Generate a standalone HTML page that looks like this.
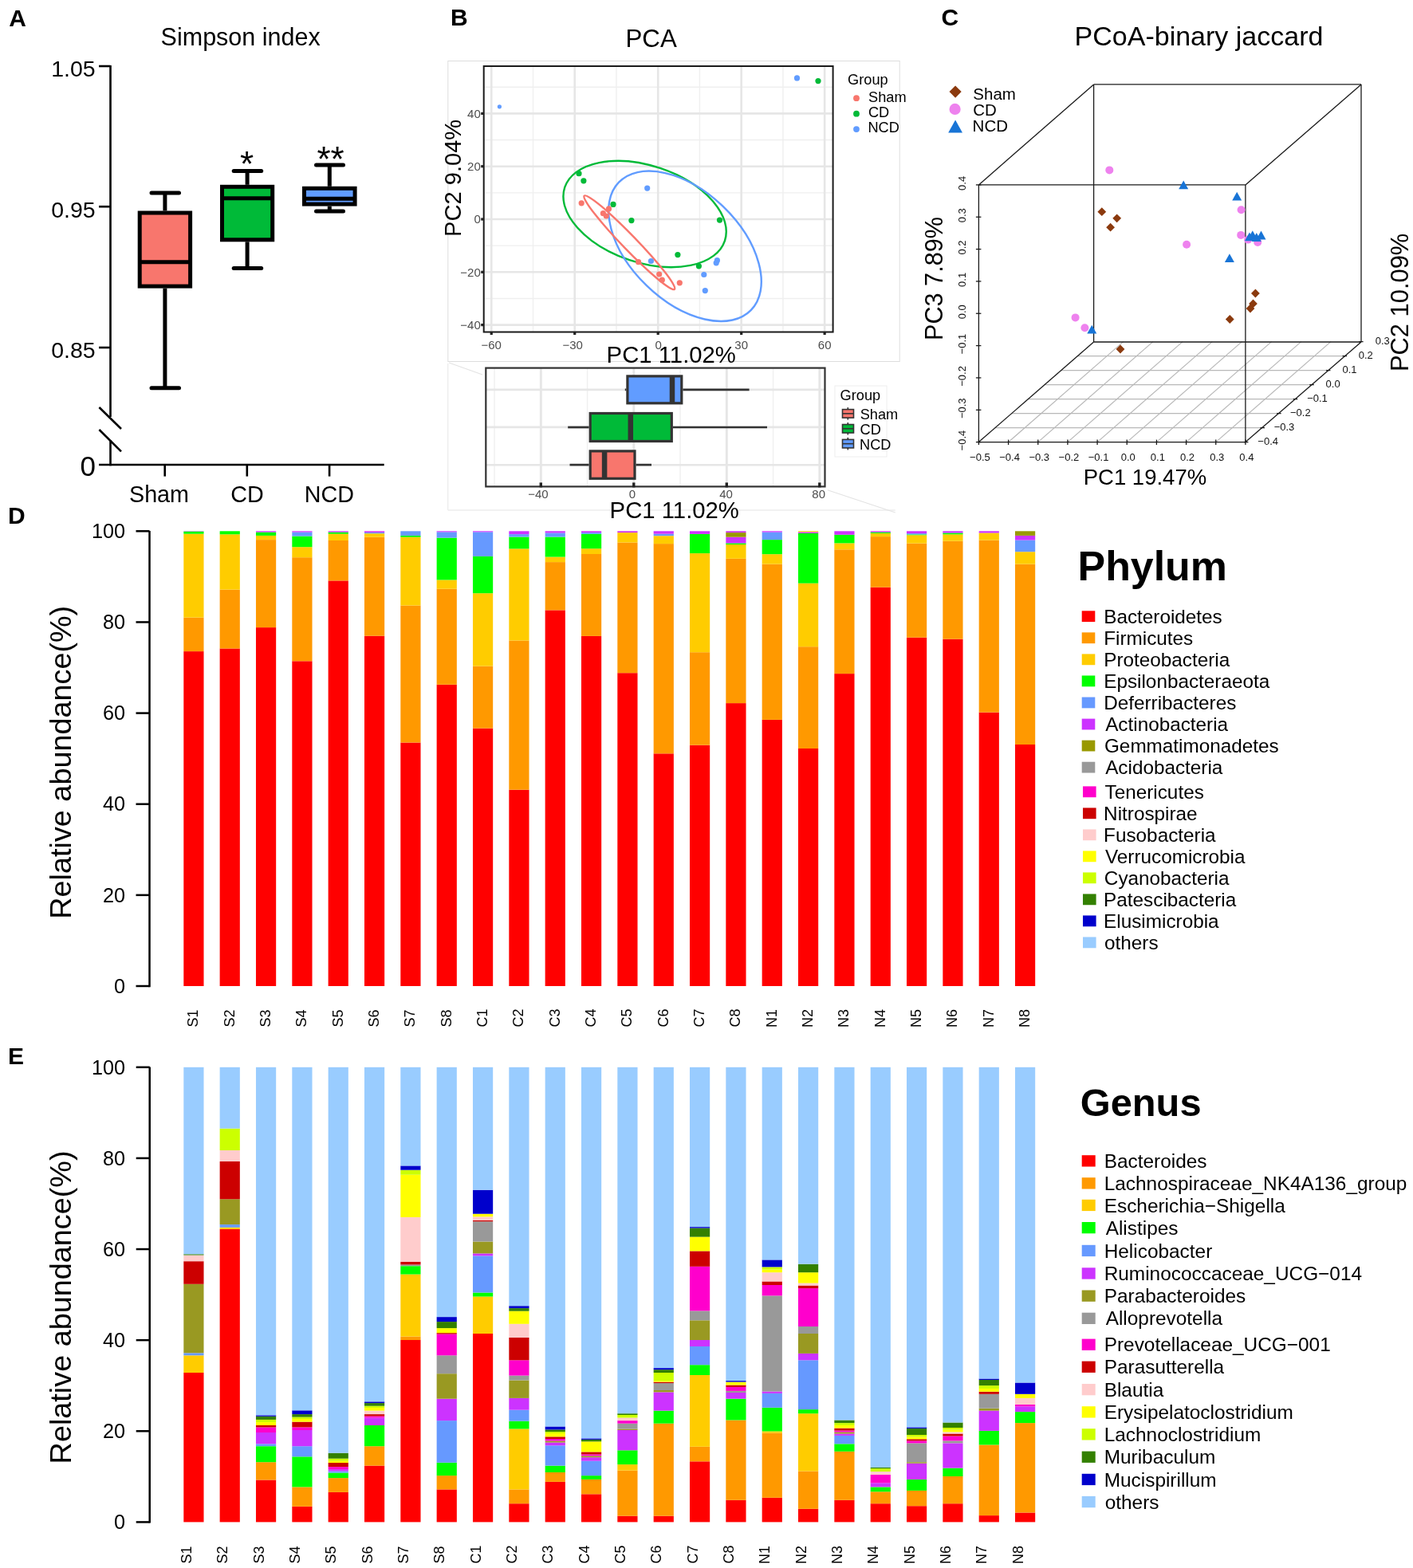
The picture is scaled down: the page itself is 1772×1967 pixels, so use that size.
<!DOCTYPE html><html><head><meta charset="utf-8"><title>Figure</title><style>html,body{margin:0;padding:0;background:#fff;}svg{display:block;}</style></head><body>
<svg width="1772" height="1967" viewBox="0 0 1772 1967" font-family="Liberation Sans, Arial, sans-serif">
<rect x="0" y="0" width="1772" height="1967" fill="#fff"/>
<text x="11.15" y="32.60" font-size="30.00" font-weight="bold" fill="#000" text-anchor="start">A</text>
<text x="201.61" y="57.00" font-size="30.50" fill="#000" text-anchor="start">Simpson index</text>
<line x1="138.50" y1="82.00" x2="138.50" y2="523.00" stroke="#000" stroke-width="2.60" stroke-linecap="butt"/>
<line x1="138.50" y1="552.00" x2="138.50" y2="584.30" stroke="#000" stroke-width="2.60" stroke-linecap="butt"/>
<line x1="124.00" y1="83.00" x2="138.50" y2="83.00" stroke="#000" stroke-width="2.60" stroke-linecap="butt"/>
<text x="119.70" y="96.30" font-size="28.50" fill="#000" text-anchor="end">1.05</text>
<line x1="124.00" y1="259.20" x2="138.50" y2="259.20" stroke="#000" stroke-width="2.60" stroke-linecap="butt"/>
<text x="119.70" y="272.50" font-size="28.50" fill="#000" text-anchor="end">0.95</text>
<line x1="124.00" y1="436.00" x2="138.50" y2="436.00" stroke="#000" stroke-width="2.60" stroke-linecap="butt"/>
<text x="119.70" y="449.30" font-size="28.50" fill="#000" text-anchor="end">0.85</text>
<text x="119.97" y="596.80" font-size="35.00" fill="#000" text-anchor="end">0</text>
<line x1="124.40" y1="511.00" x2="152.00" y2="538.00" stroke="#000" stroke-width="2.60" stroke-linecap="butt"/>
<line x1="124.40" y1="539.00" x2="152.00" y2="566.30" stroke="#000" stroke-width="2.60" stroke-linecap="butt"/>
<line x1="124.00" y1="583.00" x2="481.70" y2="583.00" stroke="#000" stroke-width="2.60" stroke-linecap="butt"/>
<line x1="206.70" y1="583.00" x2="206.70" y2="597.60" stroke="#000" stroke-width="2.60" stroke-linecap="butt"/>
<text x="199.50" y="629.80" font-size="28.70" fill="#000" text-anchor="middle">Sham</text>
<line x1="309.80" y1="583.00" x2="309.80" y2="597.60" stroke="#000" stroke-width="2.60" stroke-linecap="butt"/>
<text x="309.90" y="629.80" font-size="28.70" fill="#000" text-anchor="middle">CD</text>
<line x1="413.10" y1="583.00" x2="413.10" y2="597.60" stroke="#000" stroke-width="2.60" stroke-linecap="butt"/>
<text x="412.90" y="629.80" font-size="28.70" fill="#000" text-anchor="middle">NCD</text>
<line x1="206.90" y1="242.00" x2="206.90" y2="264.50" stroke="#000" stroke-width="5.00" stroke-linecap="butt"/>
<line x1="206.90" y1="361.60" x2="206.90" y2="486.70" stroke="#000" stroke-width="5.00" stroke-linecap="butt"/>
<line x1="190.00" y1="242.00" x2="224.50" y2="242.00" stroke="#000" stroke-width="5.00" stroke-linecap="round"/>
<line x1="190.00" y1="486.70" x2="224.50" y2="486.70" stroke="#000" stroke-width="5.00" stroke-linecap="round"/>
<rect x="175.20" y="267.00" width="63.40" height="92.10" fill="#F8766D" stroke="#000" stroke-width="5.00"/>
<line x1="175.20" y1="328.80" x2="238.60" y2="328.80" stroke="#000" stroke-width="5.00" stroke-linecap="butt"/>
<line x1="310.10" y1="214.60" x2="310.10" y2="231.80" stroke="#000" stroke-width="5.00" stroke-linecap="butt"/>
<line x1="310.10" y1="303.30" x2="310.10" y2="336.50" stroke="#000" stroke-width="5.00" stroke-linecap="butt"/>
<line x1="293.20" y1="214.60" x2="327.70" y2="214.60" stroke="#000" stroke-width="5.00" stroke-linecap="round"/>
<line x1="293.20" y1="336.50" x2="327.70" y2="336.50" stroke="#000" stroke-width="5.00" stroke-linecap="round"/>
<rect x="278.50" y="234.30" width="63.20" height="66.50" fill="#00BA38" stroke="#000" stroke-width="5.00"/>
<line x1="278.50" y1="248.70" x2="341.70" y2="248.70" stroke="#000" stroke-width="5.00" stroke-linecap="butt"/>
<line x1="413.30" y1="207.00" x2="413.30" y2="233.80" stroke="#000" stroke-width="5.00" stroke-linecap="butt"/>
<line x1="413.30" y1="258.60" x2="413.30" y2="265.00" stroke="#000" stroke-width="5.00" stroke-linecap="butt"/>
<line x1="396.50" y1="207.00" x2="430.50" y2="207.00" stroke="#000" stroke-width="5.00" stroke-linecap="round"/>
<line x1="396.50" y1="265.00" x2="430.50" y2="265.00" stroke="#000" stroke-width="5.00" stroke-linecap="round"/>
<rect x="381.50" y="236.30" width="63.60" height="19.80" fill="#619CFF" stroke="#000" stroke-width="5.00"/>
<line x1="381.50" y1="249.20" x2="445.10" y2="249.20" stroke="#000" stroke-width="5.00" stroke-linecap="butt"/>
<text x="309.50" y="220.80" font-size="44.00" fill="#000" text-anchor="middle">*</text>
<text x="414.60" y="215.10" font-size="44.00" fill="#000" text-anchor="middle">**</text>
<text x="564.99" y="32.30" font-size="30.00" font-weight="bold" fill="#000" text-anchor="start">B</text>
<text x="784.43" y="59.30" font-size="31.30" fill="#000" text-anchor="start">PCA</text>
<rect x="561.8" y="76.5" width="566.4" height="377" fill="none" stroke="#dddddd" stroke-width="1"/>
<rect x="606.70" y="83.00" width="437.90" height="333.50" fill="#fff"/>
<line x1="668.49" y1="83.00" x2="668.49" y2="416.50" stroke="#EFEFEF" stroke-width="1.40" stroke-linecap="butt"/>
<line x1="772.96" y1="83.00" x2="772.96" y2="416.50" stroke="#EFEFEF" stroke-width="1.40" stroke-linecap="butt"/>
<line x1="877.44" y1="83.00" x2="877.44" y2="416.50" stroke="#EFEFEF" stroke-width="1.40" stroke-linecap="butt"/>
<line x1="981.91" y1="83.00" x2="981.91" y2="416.50" stroke="#EFEFEF" stroke-width="1.40" stroke-linecap="butt"/>
<line x1="606.70" y1="109.25" x2="1044.60" y2="109.25" stroke="#EFEFEF" stroke-width="1.40" stroke-linecap="butt"/>
<line x1="606.70" y1="175.55" x2="1044.60" y2="175.55" stroke="#EFEFEF" stroke-width="1.40" stroke-linecap="butt"/>
<line x1="606.70" y1="241.85" x2="1044.60" y2="241.85" stroke="#EFEFEF" stroke-width="1.40" stroke-linecap="butt"/>
<line x1="606.70" y1="308.15" x2="1044.60" y2="308.15" stroke="#EFEFEF" stroke-width="1.40" stroke-linecap="butt"/>
<line x1="606.70" y1="374.45" x2="1044.60" y2="374.45" stroke="#EFEFEF" stroke-width="1.40" stroke-linecap="butt"/>
<line x1="616.25" y1="83.00" x2="616.25" y2="416.50" stroke="#E6E6E6" stroke-width="2.60" stroke-linecap="butt"/>
<line x1="720.73" y1="83.00" x2="720.73" y2="416.50" stroke="#E6E6E6" stroke-width="2.60" stroke-linecap="butt"/>
<line x1="825.20" y1="83.00" x2="825.20" y2="416.50" stroke="#E6E6E6" stroke-width="2.60" stroke-linecap="butt"/>
<line x1="929.68" y1="83.00" x2="929.68" y2="416.50" stroke="#E6E6E6" stroke-width="2.60" stroke-linecap="butt"/>
<line x1="1034.15" y1="83.00" x2="1034.15" y2="416.50" stroke="#E6E6E6" stroke-width="2.60" stroke-linecap="butt"/>
<line x1="606.70" y1="142.40" x2="1044.60" y2="142.40" stroke="#E6E6E6" stroke-width="2.60" stroke-linecap="butt"/>
<line x1="606.70" y1="208.70" x2="1044.60" y2="208.70" stroke="#E6E6E6" stroke-width="2.60" stroke-linecap="butt"/>
<line x1="606.70" y1="275.00" x2="1044.60" y2="275.00" stroke="#E6E6E6" stroke-width="2.60" stroke-linecap="butt"/>
<line x1="606.70" y1="341.30" x2="1044.60" y2="341.30" stroke="#E6E6E6" stroke-width="2.60" stroke-linecap="butt"/>
<line x1="606.70" y1="407.60" x2="1044.60" y2="407.60" stroke="#E6E6E6" stroke-width="2.60" stroke-linecap="butt"/>
<ellipse cx="808.6" cy="268.5" rx="105.8" ry="60.7" transform="rotate(18.5 808.6 268.5)" fill="none" stroke="#00BA38" stroke-width="2.4"/>
<ellipse cx="859.0" cy="308.8" rx="115.3" ry="69.0" transform="rotate(44 859.0 308.8)" fill="none" stroke="#619CFF" stroke-width="2.4"/>
<ellipse cx="789.3" cy="304.2" rx="81.5" ry="8.8" transform="rotate(46 789.3 304.2)" fill="none" stroke="#F8766D" stroke-width="2.4"/>
<circle cx="626.40" cy="133.80" r="2.60" fill="#619CFF"/>
<circle cx="999.50" cy="97.90" r="3.60" fill="#619CFF"/>
<circle cx="1026.00" cy="101.60" r="3.60" fill="#00BA38"/>
<circle cx="726.00" cy="217.70" r="3.60" fill="#00BA38"/>
<circle cx="731.90" cy="226.80" r="3.60" fill="#00BA38"/>
<circle cx="769.00" cy="256.40" r="3.60" fill="#00BA38"/>
<circle cx="791.90" cy="276.60" r="3.60" fill="#00BA38"/>
<circle cx="902.50" cy="276.10" r="3.60" fill="#00BA38"/>
<circle cx="849.90" cy="319.60" r="3.60" fill="#00BA38"/>
<circle cx="876.40" cy="333.80" r="3.60" fill="#00BA38"/>
<circle cx="729.20" cy="254.80" r="3.60" fill="#F8766D"/>
<circle cx="756.40" cy="267.70" r="3.60" fill="#F8766D"/>
<circle cx="760.30" cy="271.00" r="3.60" fill="#F8766D"/>
<circle cx="763.50" cy="261.90" r="3.60" fill="#F8766D"/>
<circle cx="800.60" cy="328.70" r="3.60" fill="#F8766D"/>
<circle cx="826.70" cy="344.00" r="3.60" fill="#F8766D"/>
<circle cx="830.30" cy="351.20" r="3.60" fill="#F8766D"/>
<circle cx="852.30" cy="354.80" r="3.60" fill="#F8766D"/>
<circle cx="811.70" cy="236.10" r="3.60" fill="#619CFF"/>
<circle cx="816.40" cy="327.50" r="3.60" fill="#619CFF"/>
<circle cx="882.80" cy="344.50" r="3.60" fill="#619CFF"/>
<circle cx="884.30" cy="364.60" r="3.60" fill="#619CFF"/>
<circle cx="898.20" cy="329.80" r="3.60" fill="#619CFF"/>
<circle cx="899.40" cy="326.70" r="3.60" fill="#619CFF"/>
<rect x="606.70" y="83.00" width="437.90" height="333.50" fill="none" stroke="#1a1a1a" stroke-width="2"/>
<line x1="603.20" y1="142.40" x2="606.70" y2="142.40" stroke="#222" stroke-width="3.20" stroke-linecap="butt"/>
<text x="602.79" y="147.70" font-size="15.00" fill="#4D4D4D" text-anchor="end">40</text>
<line x1="603.20" y1="208.70" x2="606.70" y2="208.70" stroke="#222" stroke-width="3.20" stroke-linecap="butt"/>
<text x="602.79" y="214.00" font-size="15.00" fill="#4D4D4D" text-anchor="end">20</text>
<line x1="603.20" y1="275.00" x2="606.70" y2="275.00" stroke="#222" stroke-width="3.20" stroke-linecap="butt"/>
<text x="602.79" y="280.30" font-size="15.00" fill="#4D4D4D" text-anchor="end">0</text>
<line x1="603.20" y1="341.30" x2="606.70" y2="341.30" stroke="#222" stroke-width="3.20" stroke-linecap="butt"/>
<text x="602.79" y="346.60" font-size="15.00" fill="#4D4D4D" text-anchor="end">−20</text>
<line x1="603.20" y1="407.60" x2="606.70" y2="407.60" stroke="#222" stroke-width="3.20" stroke-linecap="butt"/>
<text x="602.79" y="412.90" font-size="15.00" fill="#4D4D4D" text-anchor="end">−40</text>
<line x1="616.25" y1="416.50" x2="616.25" y2="420.00" stroke="#222" stroke-width="3.20" stroke-linecap="butt"/>
<text x="616.25" y="438.00" font-size="15.00" fill="#4D4D4D" text-anchor="middle">−60</text>
<line x1="720.73" y1="416.50" x2="720.73" y2="420.00" stroke="#222" stroke-width="3.20" stroke-linecap="butt"/>
<text x="718.23" y="438.00" font-size="15.00" fill="#4D4D4D" text-anchor="middle">−30</text>
<line x1="825.20" y1="416.50" x2="825.20" y2="420.00" stroke="#222" stroke-width="3.20" stroke-linecap="butt"/>
<text x="825.70" y="438.00" font-size="15.00" fill="#4D4D4D" text-anchor="middle">0</text>
<line x1="929.68" y1="416.50" x2="929.68" y2="420.00" stroke="#222" stroke-width="3.20" stroke-linecap="butt"/>
<text x="929.68" y="438.00" font-size="15.00" fill="#4D4D4D" text-anchor="middle">30</text>
<line x1="1034.15" y1="416.50" x2="1034.15" y2="420.00" stroke="#222" stroke-width="3.20" stroke-linecap="butt"/>
<text x="1034.15" y="438.00" font-size="15.00" fill="#4D4D4D" text-anchor="middle">60</text>
<text transform="translate(577.70 294.60) rotate(-90)" x="-2.39" y="0" font-size="29.10" fill="#000" text-anchor="start">PC2 9.04%</text>
<text x="760.60" y="454.90" font-size="29.30" fill="#000" text-anchor="start">PC1 11.02%</text>
<text x="1063.08" y="106.00" font-size="18.20" fill="#000" text-anchor="start">Group</text>
<circle cx="1074.00" cy="123.20" r="3.90" fill="#F8766D"/>
<text x="1089.07" y="127.70" font-size="18.20" fill="#000" text-anchor="start">Sham</text>
<circle cx="1074.00" cy="142.65" r="3.90" fill="#00BA38"/>
<text x="1088.98" y="146.75" font-size="18.20" fill="#000" text-anchor="start">CD</text>
<circle cx="1074.00" cy="162.10" r="3.90" fill="#619CFF"/>
<text x="1088.41" y="165.80" font-size="18.20" fill="#000" text-anchor="start">NCD</text>
<polyline points="563,455 605,470" fill="none" stroke="#e3e3e3" stroke-width="1.2"/>
<polyline points="1037.8,614.8 1122.8,643" fill="none" stroke="#e3e3e3" stroke-width="1.2"/>
<line x1="561.70" y1="640.00" x2="1122.80" y2="640.00" stroke="#e3e3e3" stroke-width="1.20" stroke-linecap="butt"/>
<line x1="561.70" y1="456.00" x2="561.70" y2="640.00" stroke="#ececec" stroke-width="1.20" stroke-linecap="butt"/>
<line x1="620.05" y1="461.60" x2="620.05" y2="610.40" stroke="#EFEFEF" stroke-width="1.40" stroke-linecap="butt"/>
<line x1="736.55" y1="461.60" x2="736.55" y2="610.40" stroke="#EFEFEF" stroke-width="1.40" stroke-linecap="butt"/>
<line x1="853.05" y1="461.60" x2="853.05" y2="610.40" stroke="#EFEFEF" stroke-width="1.40" stroke-linecap="butt"/>
<line x1="969.55" y1="461.60" x2="969.55" y2="610.40" stroke="#EFEFEF" stroke-width="1.40" stroke-linecap="butt"/>
<line x1="678.30" y1="461.60" x2="678.30" y2="610.40" stroke="#E6E6E6" stroke-width="2.90" stroke-linecap="butt"/>
<line x1="794.80" y1="461.60" x2="794.80" y2="610.40" stroke="#E6E6E6" stroke-width="2.90" stroke-linecap="butt"/>
<line x1="911.30" y1="461.60" x2="911.30" y2="610.40" stroke="#E6E6E6" stroke-width="2.90" stroke-linecap="butt"/>
<line x1="1027.80" y1="461.60" x2="1027.80" y2="610.40" stroke="#E6E6E6" stroke-width="2.90" stroke-linecap="butt"/>
<line x1="609.30" y1="488.90" x2="1034.50" y2="488.90" stroke="#E6E6E6" stroke-width="2.60" stroke-linecap="butt"/>
<line x1="609.30" y1="535.90" x2="1034.50" y2="535.90" stroke="#E6E6E6" stroke-width="2.60" stroke-linecap="butt"/>
<line x1="609.30" y1="583.20" x2="1034.50" y2="583.20" stroke="#E6E6E6" stroke-width="2.60" stroke-linecap="butt"/>
<line x1="783.80" y1="488.85" x2="785.30" y2="488.85" stroke="#333" stroke-width="2.70" stroke-linecap="butt"/>
<line x1="856.40" y1="488.85" x2="939.60" y2="488.85" stroke="#333" stroke-width="2.70" stroke-linecap="butt"/>
<rect x="786.90" y="471.90" width="67.90" height="33.90" fill="#619CFF" stroke="#333" stroke-width="3.2"/>
<line x1="843.00" y1="471.90" x2="843.00" y2="505.80" stroke="#333" stroke-width="6.50" stroke-linecap="butt"/>
<line x1="712.20" y1="536.00" x2="738.60" y2="536.00" stroke="#333" stroke-width="2.70" stroke-linecap="butt"/>
<line x1="843.90" y1="536.00" x2="962.00" y2="536.00" stroke="#333" stroke-width="2.70" stroke-linecap="butt"/>
<rect x="740.20" y="518.50" width="102.10" height="35.00" fill="#00BA38" stroke="#333" stroke-width="3.2"/>
<line x1="790.80" y1="518.50" x2="790.80" y2="553.50" stroke="#333" stroke-width="6.50" stroke-linecap="butt"/>
<line x1="714.50" y1="583.10" x2="738.60" y2="583.10" stroke="#333" stroke-width="2.70" stroke-linecap="butt"/>
<line x1="797.60" y1="583.10" x2="817.00" y2="583.10" stroke="#333" stroke-width="2.70" stroke-linecap="butt"/>
<rect x="740.20" y="565.90" width="55.80" height="34.40" fill="#F8766D" stroke="#333" stroke-width="3.2"/>
<line x1="758.10" y1="565.90" x2="758.10" y2="600.30" stroke="#333" stroke-width="6.50" stroke-linecap="butt"/>
<rect x="609.30" y="461.60" width="425.20" height="148.80" fill="none" stroke="#333" stroke-width="2.2"/>
<line x1="678.30" y1="605.40" x2="678.30" y2="611.40" stroke="#222" stroke-width="3.40" stroke-linecap="butt"/>
<text x="675.00" y="625.00" font-size="15.00" fill="#4D4D4D" text-anchor="middle">−40</text>
<line x1="794.80" y1="605.40" x2="794.80" y2="611.40" stroke="#222" stroke-width="3.40" stroke-linecap="butt"/>
<text x="793.00" y="625.00" font-size="15.00" fill="#4D4D4D" text-anchor="middle">0</text>
<line x1="911.30" y1="605.40" x2="911.30" y2="611.40" stroke="#222" stroke-width="3.40" stroke-linecap="butt"/>
<text x="910.50" y="625.00" font-size="15.00" fill="#4D4D4D" text-anchor="middle">40</text>
<line x1="1027.80" y1="605.40" x2="1027.80" y2="611.40" stroke="#222" stroke-width="3.40" stroke-linecap="butt"/>
<text x="1026.70" y="625.00" font-size="15.00" fill="#4D4D4D" text-anchor="middle">80</text>
<text x="764.60" y="649.80" font-size="29.30" fill="#000" text-anchor="start">PC1 11.02%</text>
<rect x="1047" y="484" width="65" height="89" fill="#fff" stroke="#eeeeee" stroke-width="1"/>
<text x="1053.58" y="501.60" font-size="18.20" fill="#000" text-anchor="start">Group</text>
<line x1="1063.30" y1="511.10" x2="1063.30" y2="526.60" stroke="#333" stroke-width="1.60" stroke-linecap="butt"/>
<rect x="1056.5" y="513.60" width="14" height="10.5" fill="#F8766D" stroke="#333" stroke-width="1.6"/>
<line x1="1056.50" y1="518.85" x2="1070.50" y2="518.85" stroke="#333" stroke-width="1.60" stroke-linecap="butt"/>
<text x="1078.67" y="526.40" font-size="18.20" fill="#000" text-anchor="start">Sham</text>
<line x1="1063.30" y1="530.00" x2="1063.30" y2="545.50" stroke="#333" stroke-width="1.60" stroke-linecap="butt"/>
<rect x="1056.5" y="532.50" width="14" height="10.5" fill="#00BA38" stroke="#333" stroke-width="1.6"/>
<line x1="1056.50" y1="537.75" x2="1070.50" y2="537.75" stroke="#333" stroke-width="1.60" stroke-linecap="butt"/>
<text x="1078.58" y="545.30" font-size="18.20" fill="#000" text-anchor="start">CD</text>
<line x1="1063.30" y1="548.90" x2="1063.30" y2="564.40" stroke="#333" stroke-width="1.60" stroke-linecap="butt"/>
<rect x="1056.5" y="551.40" width="14" height="10.5" fill="#619CFF" stroke="#333" stroke-width="1.6"/>
<line x1="1056.50" y1="556.65" x2="1070.50" y2="556.65" stroke="#333" stroke-width="1.60" stroke-linecap="butt"/>
<text x="1078.01" y="564.20" font-size="18.20" fill="#000" text-anchor="start">NCD</text>
<text x="1180.47" y="32.10" font-size="30.00" font-weight="bold" fill="#000" text-anchor="start">C</text>
<text x="1347.61" y="57.10" font-size="34.00" fill="#000" text-anchor="start">PCoA-binary jaccard</text>
<line x1="1248.00" y1="536.60" x2="1582.50" y2="536.60" stroke="#b8b8b8" stroke-width="1.20" stroke-linecap="butt"/>
<line x1="1268.60" y1="518.60" x2="1603.10" y2="518.60" stroke="#b8b8b8" stroke-width="1.20" stroke-linecap="butt"/>
<line x1="1289.20" y1="500.60" x2="1623.70" y2="500.60" stroke="#b8b8b8" stroke-width="1.20" stroke-linecap="butt"/>
<line x1="1309.80" y1="482.60" x2="1644.30" y2="482.60" stroke="#b8b8b8" stroke-width="1.20" stroke-linecap="butt"/>
<line x1="1330.40" y1="464.60" x2="1664.90" y2="464.60" stroke="#b8b8b8" stroke-width="1.20" stroke-linecap="butt"/>
<line x1="1351.00" y1="446.60" x2="1685.50" y2="446.60" stroke="#b8b8b8" stroke-width="1.20" stroke-linecap="butt"/>
<line x1="1264.57" y1="554.60" x2="1408.77" y2="428.60" stroke="#b8b8b8" stroke-width="1.20" stroke-linecap="butt"/>
<line x1="1301.73" y1="554.60" x2="1445.93" y2="428.60" stroke="#b8b8b8" stroke-width="1.20" stroke-linecap="butt"/>
<line x1="1338.90" y1="554.60" x2="1483.10" y2="428.60" stroke="#b8b8b8" stroke-width="1.20" stroke-linecap="butt"/>
<line x1="1376.07" y1="554.60" x2="1520.27" y2="428.60" stroke="#b8b8b8" stroke-width="1.20" stroke-linecap="butt"/>
<line x1="1413.23" y1="554.60" x2="1557.43" y2="428.60" stroke="#b8b8b8" stroke-width="1.20" stroke-linecap="butt"/>
<line x1="1450.40" y1="554.60" x2="1594.60" y2="428.60" stroke="#b8b8b8" stroke-width="1.20" stroke-linecap="butt"/>
<line x1="1487.57" y1="554.60" x2="1631.77" y2="428.60" stroke="#b8b8b8" stroke-width="1.20" stroke-linecap="butt"/>
<line x1="1524.73" y1="554.60" x2="1668.93" y2="428.60" stroke="#b8b8b8" stroke-width="1.20" stroke-linecap="butt"/>
<line x1="1371.60" y1="105.90" x2="1707.00" y2="105.90" stroke="#1a1a1a" stroke-width="1.30" stroke-linecap="butt"/>
<line x1="1707.00" y1="105.90" x2="1707.00" y2="429.00" stroke="#1a1a1a" stroke-width="1.30" stroke-linecap="butt"/>
<line x1="1371.60" y1="105.90" x2="1371.60" y2="429.00" stroke="#1a1a1a" stroke-width="1.30" stroke-linecap="butt"/>
<line x1="1371.60" y1="429.00" x2="1707.00" y2="429.00" stroke="#1a1a1a" stroke-width="1.30" stroke-linecap="butt"/>
<line x1="1227.40" y1="231.90" x2="1371.60" y2="105.90" stroke="#1a1a1a" stroke-width="1.30" stroke-linecap="butt"/>
<line x1="1561.90" y1="231.90" x2="1707.00" y2="105.90" stroke="#1a1a1a" stroke-width="1.30" stroke-linecap="butt"/>
<line x1="1561.90" y1="554.60" x2="1707.00" y2="429.00" stroke="#1a1a1a" stroke-width="1.30" stroke-linecap="butt"/>
<line x1="1227.40" y1="554.60" x2="1371.60" y2="429.00" stroke="#1a1a1a" stroke-width="1.30" stroke-linecap="butt"/>
<line x1="1227.40" y1="231.90" x2="1561.90" y2="231.90" stroke="#1a1a1a" stroke-width="1.30" stroke-linecap="butt"/>
<line x1="1561.90" y1="231.90" x2="1561.90" y2="554.60" stroke="#1a1a1a" stroke-width="1.30" stroke-linecap="butt"/>
<line x1="1227.40" y1="231.90" x2="1227.40" y2="554.60" stroke="#1a1a1a" stroke-width="1.30" stroke-linecap="butt"/>
<line x1="1227.40" y1="554.60" x2="1561.90" y2="554.60" stroke="#1a1a1a" stroke-width="1.30" stroke-linecap="butt"/>
<line x1="1227.40" y1="551.60" x2="1227.40" y2="558.10" stroke="#1a1a1a" stroke-width="1.30" stroke-linecap="butt"/>
<text x="1228.90" y="577.80" font-size="13.00" fill="#111" text-anchor="middle">−0.5</text>
<line x1="1264.57" y1="551.60" x2="1264.57" y2="558.10" stroke="#1a1a1a" stroke-width="1.30" stroke-linecap="butt"/>
<text x="1266.07" y="577.80" font-size="13.00" fill="#111" text-anchor="middle">−0.4</text>
<line x1="1301.73" y1="551.60" x2="1301.73" y2="558.10" stroke="#1a1a1a" stroke-width="1.30" stroke-linecap="butt"/>
<text x="1303.23" y="577.80" font-size="13.00" fill="#111" text-anchor="middle">−0.3</text>
<line x1="1338.90" y1="551.60" x2="1338.90" y2="558.10" stroke="#1a1a1a" stroke-width="1.30" stroke-linecap="butt"/>
<text x="1340.40" y="577.80" font-size="13.00" fill="#111" text-anchor="middle">−0.2</text>
<line x1="1376.07" y1="551.60" x2="1376.07" y2="558.10" stroke="#1a1a1a" stroke-width="1.30" stroke-linecap="butt"/>
<text x="1377.57" y="577.80" font-size="13.00" fill="#111" text-anchor="middle">−0.1</text>
<line x1="1413.23" y1="551.60" x2="1413.23" y2="558.10" stroke="#1a1a1a" stroke-width="1.30" stroke-linecap="butt"/>
<text x="1414.73" y="577.80" font-size="13.00" fill="#111" text-anchor="middle">0.0</text>
<line x1="1450.40" y1="551.60" x2="1450.40" y2="558.10" stroke="#1a1a1a" stroke-width="1.30" stroke-linecap="butt"/>
<text x="1451.90" y="577.80" font-size="13.00" fill="#111" text-anchor="middle">0.1</text>
<line x1="1487.57" y1="551.60" x2="1487.57" y2="558.10" stroke="#1a1a1a" stroke-width="1.30" stroke-linecap="butt"/>
<text x="1489.07" y="577.80" font-size="13.00" fill="#111" text-anchor="middle">0.2</text>
<line x1="1524.73" y1="551.60" x2="1524.73" y2="558.10" stroke="#1a1a1a" stroke-width="1.30" stroke-linecap="butt"/>
<text x="1526.23" y="577.80" font-size="13.00" fill="#111" text-anchor="middle">0.3</text>
<line x1="1561.90" y1="551.60" x2="1561.90" y2="558.10" stroke="#1a1a1a" stroke-width="1.30" stroke-linecap="butt"/>
<text x="1563.40" y="577.80" font-size="13.00" fill="#111" text-anchor="middle">0.4</text>
<line x1="1223.90" y1="554.60" x2="1230.40" y2="554.60" stroke="#1a1a1a" stroke-width="1.30" stroke-linecap="butt"/>
<text transform="translate(1210.90 552.60) rotate(-90)" x="0.00" y="0" font-size="13.00" fill="#111" text-anchor="middle">−0.4</text>
<line x1="1223.90" y1="514.26" x2="1230.40" y2="514.26" stroke="#1a1a1a" stroke-width="1.30" stroke-linecap="butt"/>
<text transform="translate(1210.90 512.26) rotate(-90)" x="0.00" y="0" font-size="13.00" fill="#111" text-anchor="middle">−0.3</text>
<line x1="1223.90" y1="473.93" x2="1230.40" y2="473.93" stroke="#1a1a1a" stroke-width="1.30" stroke-linecap="butt"/>
<text transform="translate(1210.90 471.93) rotate(-90)" x="0.00" y="0" font-size="13.00" fill="#111" text-anchor="middle">−0.2</text>
<line x1="1223.90" y1="433.59" x2="1230.40" y2="433.59" stroke="#1a1a1a" stroke-width="1.30" stroke-linecap="butt"/>
<text transform="translate(1210.90 431.59) rotate(-90)" x="0.00" y="0" font-size="13.00" fill="#111" text-anchor="middle">−0.1</text>
<line x1="1223.90" y1="393.25" x2="1230.40" y2="393.25" stroke="#1a1a1a" stroke-width="1.30" stroke-linecap="butt"/>
<text transform="translate(1210.90 391.25) rotate(-90)" x="0.00" y="0" font-size="13.00" fill="#111" text-anchor="middle">0.0</text>
<line x1="1223.90" y1="352.91" x2="1230.40" y2="352.91" stroke="#1a1a1a" stroke-width="1.30" stroke-linecap="butt"/>
<text transform="translate(1210.90 350.91) rotate(-90)" x="0.00" y="0" font-size="13.00" fill="#111" text-anchor="middle">0.1</text>
<line x1="1223.90" y1="312.57" x2="1230.40" y2="312.57" stroke="#1a1a1a" stroke-width="1.30" stroke-linecap="butt"/>
<text transform="translate(1210.90 310.57) rotate(-90)" x="0.00" y="0" font-size="13.00" fill="#111" text-anchor="middle">0.2</text>
<line x1="1223.90" y1="272.24" x2="1230.40" y2="272.24" stroke="#1a1a1a" stroke-width="1.30" stroke-linecap="butt"/>
<text transform="translate(1210.90 270.24) rotate(-90)" x="0.00" y="0" font-size="13.00" fill="#111" text-anchor="middle">0.3</text>
<line x1="1223.90" y1="231.90" x2="1230.40" y2="231.90" stroke="#1a1a1a" stroke-width="1.30" stroke-linecap="butt"/>
<text transform="translate(1210.90 229.90) rotate(-90)" x="0.00" y="0" font-size="13.00" fill="#111" text-anchor="middle">0.4</text>
<line x1="1559.90" y1="554.60" x2="1565.40" y2="554.60" stroke="#1a1a1a" stroke-width="1.30" stroke-linecap="butt"/>
<text x="1577.36" y="557.80" font-size="13.00" fill="#111" text-anchor="start">−0.4</text>
<line x1="1580.50" y1="536.60" x2="1586.00" y2="536.60" stroke="#1a1a1a" stroke-width="1.30" stroke-linecap="butt"/>
<text x="1597.66" y="540.30" font-size="13.00" fill="#111" text-anchor="start">−0.3</text>
<line x1="1601.10" y1="518.60" x2="1606.60" y2="518.60" stroke="#1a1a1a" stroke-width="1.30" stroke-linecap="butt"/>
<text x="1617.96" y="522.40" font-size="13.00" fill="#111" text-anchor="start">−0.2</text>
<line x1="1621.70" y1="500.60" x2="1627.20" y2="500.60" stroke="#1a1a1a" stroke-width="1.30" stroke-linecap="butt"/>
<text x="1639.16" y="504.30" font-size="13.00" fill="#111" text-anchor="start">−0.1</text>
<line x1="1642.30" y1="482.60" x2="1647.80" y2="482.60" stroke="#1a1a1a" stroke-width="1.30" stroke-linecap="butt"/>
<text x="1662.59" y="486.00" font-size="13.00" fill="#111" text-anchor="start">0.0</text>
<line x1="1662.90" y1="464.60" x2="1668.40" y2="464.60" stroke="#1a1a1a" stroke-width="1.30" stroke-linecap="butt"/>
<text x="1683.49" y="468.10" font-size="13.00" fill="#111" text-anchor="start">0.1</text>
<line x1="1683.50" y1="446.60" x2="1689.00" y2="446.60" stroke="#1a1a1a" stroke-width="1.30" stroke-linecap="butt"/>
<text x="1703.79" y="450.40" font-size="13.00" fill="#111" text-anchor="start">0.2</text>
<line x1="1704.10" y1="428.60" x2="1709.60" y2="428.60" stroke="#1a1a1a" stroke-width="1.30" stroke-linecap="butt"/>
<text x="1724.79" y="432.10" font-size="13.00" fill="#111" text-anchor="start">0.3</text>
<text x="1358.74" y="608.00" font-size="27.50" fill="#000" text-anchor="start">PC1 19.47%</text>
<text transform="translate(1182.40 424.40) rotate(-90)" x="-2.51" y="0" font-size="30.60" fill="#000" text-anchor="start">PC3 7.89%</text>
<text transform="translate(1765.70 463.60) rotate(-90)" x="-2.53" y="0" font-size="30.90" fill="#000" text-anchor="start">PC2 10.09%</text>
<polygon points="1381.80,260.30 1387.20,265.70 1381.80,271.10 1376.40,265.70" fill="#8B3A0E"/>
<polygon points="1400.70,268.40 1406.10,273.80 1400.70,279.20 1395.30,273.80" fill="#8B3A0E"/>
<polygon points="1392.60,279.80 1398.00,285.20 1392.60,290.60 1387.20,285.20" fill="#8B3A0E"/>
<polygon points="1574.40,362.60 1579.80,368.00 1574.40,373.40 1569.00,368.00" fill="#8B3A0E"/>
<polygon points="1571.50,375.50 1576.90,380.90 1571.50,386.30 1566.10,380.90" fill="#8B3A0E"/>
<polygon points="1568.00,381.60 1573.40,387.00 1568.00,392.40 1562.60,387.00" fill="#8B3A0E"/>
<polygon points="1542.30,395.10 1547.70,400.50 1542.30,405.90 1536.90,400.50" fill="#8B3A0E"/>
<polygon points="1405.00,432.60 1410.40,438.00 1405.00,443.40 1399.60,438.00" fill="#8B3A0E"/>
<circle cx="1391.30" cy="213.40" r="5.00" fill="#EE82EE"/>
<circle cx="1556.60" cy="263.20" r="5.00" fill="#EE82EE"/>
<circle cx="1556.20" cy="294.90" r="5.00" fill="#EE82EE"/>
<circle cx="1488.10" cy="306.70" r="5.00" fill="#EE82EE"/>
<circle cx="1565.10" cy="300.60" r="5.00" fill="#EE82EE"/>
<circle cx="1577.20" cy="303.90" r="5.00" fill="#EE82EE"/>
<circle cx="1348.60" cy="398.40" r="5.00" fill="#EE82EE"/>
<circle cx="1360.40" cy="411.20" r="5.00" fill="#EE82EE"/>
<polygon points="1484.20,226.50 1490.20,237.30 1478.20,237.30" fill="#1874D6"/>
<polygon points="1551.20,240.80 1557.20,251.60 1545.20,251.60" fill="#1874D6"/>
<polygon points="1566.90,291.40 1572.90,302.20 1560.90,302.20" fill="#1874D6"/>
<polygon points="1570.80,289.30 1576.80,300.10 1564.80,300.10" fill="#1874D6"/>
<polygon points="1575.80,292.10 1581.80,302.90 1569.80,302.90" fill="#1874D6"/>
<polygon points="1581.50,289.60 1587.50,300.40 1575.50,300.40" fill="#1874D6"/>
<polygon points="1541.90,318.20 1547.90,329.00 1535.90,329.00" fill="#1874D6"/>
<polygon points="1369.30,407.70 1375.30,418.50 1363.30,418.50" fill="#1874D6"/>
<polygon points="1198.10,107.50 1205.70,115.10 1198.10,122.70 1190.50,115.10" fill="#8B3A0E"/>
<circle cx="1197.60" cy="136.90" r="7.10" fill="#EE82EE"/>
<polygon points="1198.1,150.4 1207.0,166.5 1189.2,166.5" fill="#1874D6"/>
<text x="1220.37" y="124.70" font-size="20.50" fill="#000" text-anchor="start">Sham</text>
<text x="1220.26" y="145.00" font-size="20.50" fill="#000" text-anchor="start">CD</text>
<text x="1219.62" y="165.30" font-size="20.50" fill="#000" text-anchor="start">NCD</text>
<text x="9.89" y="656.90" font-size="30.00" font-weight="bold" fill="#000" text-anchor="start">D</text>
<rect x="230.30" y="817.10" width="25.20" height="419.90" fill="#FF0000"/>
<rect x="230.30" y="774.60" width="25.20" height="42.50" fill="#FF9900"/>
<rect x="230.30" y="669.70" width="25.20" height="104.90" fill="#FFCC00"/>
<rect x="230.30" y="666.70" width="25.20" height="3.00" fill="#00FF00"/>
<rect x="230.30" y="666.30" width="25.20" height="0.40" fill="#CC33FF"/>
<rect x="275.63" y="813.50" width="25.20" height="423.50" fill="#FF0000"/>
<rect x="275.63" y="739.60" width="25.20" height="73.90" fill="#FF9900"/>
<rect x="275.63" y="670.30" width="25.20" height="69.30" fill="#FFCC00"/>
<rect x="275.63" y="666.30" width="25.20" height="4.00" fill="#00FF00"/>
<rect x="320.97" y="787.10" width="25.20" height="449.90" fill="#FF0000"/>
<rect x="320.97" y="677.10" width="25.20" height="110.00" fill="#FF9900"/>
<rect x="320.97" y="671.90" width="25.20" height="5.20" fill="#FFCC00"/>
<rect x="320.97" y="667.60" width="25.20" height="4.30" fill="#00FF00"/>
<rect x="320.97" y="666.30" width="25.20" height="1.30" fill="#CC33FF"/>
<rect x="366.31" y="829.30" width="25.20" height="407.70" fill="#FF0000"/>
<rect x="366.31" y="699.20" width="25.20" height="130.10" fill="#FF9900"/>
<rect x="366.31" y="686.20" width="25.20" height="13.00" fill="#FFCC00"/>
<rect x="366.31" y="672.60" width="25.20" height="13.60" fill="#00FF00"/>
<rect x="366.31" y="667.60" width="25.20" height="5.00" fill="#6699FF"/>
<rect x="366.31" y="666.30" width="25.20" height="1.30" fill="#CC33FF"/>
<rect x="411.64" y="728.40" width="25.20" height="508.60" fill="#FF0000"/>
<rect x="411.64" y="678.00" width="25.20" height="50.40" fill="#FF9900"/>
<rect x="411.64" y="669.70" width="25.20" height="8.30" fill="#FFCC00"/>
<rect x="411.64" y="667.60" width="25.20" height="2.10" fill="#00FF00"/>
<rect x="411.64" y="666.30" width="25.20" height="1.30" fill="#CC33FF"/>
<rect x="456.98" y="797.70" width="25.20" height="439.30" fill="#FF0000"/>
<rect x="456.98" y="673.70" width="25.20" height="124.00" fill="#FF9900"/>
<rect x="456.98" y="669.20" width="25.20" height="4.50" fill="#FFCC00"/>
<rect x="456.98" y="667.90" width="25.20" height="1.30" fill="#6699FF"/>
<rect x="456.98" y="666.30" width="25.20" height="1.60" fill="#CC33FF"/>
<rect x="502.31" y="931.50" width="25.20" height="305.50" fill="#FF0000"/>
<rect x="502.31" y="759.50" width="25.20" height="172.00" fill="#FF9900"/>
<rect x="502.31" y="673.70" width="25.20" height="85.80" fill="#FFCC00"/>
<rect x="502.31" y="671.90" width="25.20" height="1.80" fill="#00FF00"/>
<rect x="502.31" y="666.30" width="25.20" height="5.60" fill="#6699FF"/>
<rect x="547.64" y="858.80" width="25.20" height="378.20" fill="#FF0000"/>
<rect x="547.64" y="738.70" width="25.20" height="120.10" fill="#FF9900"/>
<rect x="547.64" y="727.50" width="25.20" height="11.20" fill="#FFCC00"/>
<rect x="547.64" y="674.60" width="25.20" height="52.90" fill="#00FF00"/>
<rect x="547.64" y="667.40" width="25.20" height="7.20" fill="#6699FF"/>
<rect x="547.64" y="666.30" width="25.20" height="1.10" fill="#CC33FF"/>
<rect x="592.98" y="913.60" width="25.20" height="323.40" fill="#FF0000"/>
<rect x="592.98" y="835.60" width="25.20" height="78.00" fill="#FF9900"/>
<rect x="592.98" y="744.20" width="25.20" height="91.40" fill="#FFCC00"/>
<rect x="592.98" y="697.90" width="25.20" height="46.30" fill="#00FF00"/>
<rect x="592.98" y="667.40" width="25.20" height="30.50" fill="#6699FF"/>
<rect x="592.98" y="666.30" width="25.20" height="1.10" fill="#CC33FF"/>
<rect x="638.32" y="990.70" width="25.20" height="246.30" fill="#FF0000"/>
<rect x="638.32" y="803.50" width="25.20" height="187.20" fill="#FF9900"/>
<rect x="638.32" y="688.40" width="25.20" height="115.10" fill="#FFCC00"/>
<rect x="638.32" y="673.50" width="25.20" height="14.90" fill="#00FF00"/>
<rect x="638.32" y="670.10" width="25.20" height="3.40" fill="#6699FF"/>
<rect x="638.32" y="666.30" width="25.20" height="3.80" fill="#CC33FF"/>
<rect x="683.65" y="765.40" width="25.20" height="471.60" fill="#FF0000"/>
<rect x="683.65" y="705.10" width="25.20" height="60.30" fill="#FF9900"/>
<rect x="683.65" y="698.60" width="25.20" height="6.50" fill="#FFCC00"/>
<rect x="683.65" y="673.50" width="25.20" height="25.10" fill="#00FF00"/>
<rect x="683.65" y="668.50" width="25.20" height="5.00" fill="#6699FF"/>
<rect x="683.65" y="666.30" width="25.20" height="2.20" fill="#CC33FF"/>
<rect x="728.99" y="797.90" width="25.20" height="439.10" fill="#FF0000"/>
<rect x="728.99" y="695.00" width="25.20" height="102.90" fill="#FF9900"/>
<rect x="728.99" y="688.20" width="25.20" height="6.80" fill="#FFCC00"/>
<rect x="728.99" y="669.90" width="25.20" height="18.30" fill="#00FF00"/>
<rect x="728.99" y="668.10" width="25.20" height="1.80" fill="#6699FF"/>
<rect x="728.99" y="666.30" width="25.20" height="1.80" fill="#CC33FF"/>
<rect x="774.32" y="844.20" width="25.20" height="392.80" fill="#FF0000"/>
<rect x="774.32" y="680.50" width="25.20" height="163.70" fill="#FF9900"/>
<rect x="774.32" y="668.10" width="25.20" height="12.40" fill="#FFCC00"/>
<rect x="774.32" y="666.30" width="25.20" height="1.80" fill="#CC33FF"/>
<rect x="819.65" y="945.30" width="25.20" height="291.70" fill="#FF0000"/>
<rect x="819.65" y="682.10" width="25.20" height="263.20" fill="#FF9900"/>
<rect x="819.65" y="672.20" width="25.20" height="9.90" fill="#FFCC00"/>
<rect x="819.65" y="669.70" width="25.20" height="2.50" fill="#6699FF"/>
<rect x="819.65" y="666.30" width="25.20" height="3.40" fill="#CC33FF"/>
<rect x="864.99" y="934.70" width="25.20" height="302.30" fill="#FF0000"/>
<rect x="864.99" y="818.20" width="25.20" height="116.50" fill="#FF9900"/>
<rect x="864.99" y="694.10" width="25.20" height="124.10" fill="#FFCC00"/>
<rect x="864.99" y="669.90" width="25.20" height="24.20" fill="#00FF00"/>
<rect x="864.99" y="666.30" width="25.20" height="3.60" fill="#CC33FF"/>
<rect x="910.33" y="882.10" width="25.20" height="354.90" fill="#FF0000"/>
<rect x="910.33" y="700.80" width="25.20" height="181.30" fill="#FF9900"/>
<rect x="910.33" y="683.00" width="25.20" height="17.80" fill="#FFCC00"/>
<rect x="910.33" y="681.40" width="25.20" height="1.60" fill="#00FF00"/>
<rect x="910.33" y="673.70" width="25.20" height="7.70" fill="#CC33FF"/>
<rect x="910.33" y="668.10" width="25.20" height="5.60" fill="#999900"/>
<rect x="910.33" y="666.30" width="25.20" height="1.80" fill="#CC33FF"/>
<rect x="955.66" y="902.90" width="25.20" height="334.10" fill="#FF0000"/>
<rect x="955.66" y="707.60" width="25.20" height="195.30" fill="#FF9900"/>
<rect x="955.66" y="695.20" width="25.20" height="12.40" fill="#FFCC00"/>
<rect x="955.66" y="677.10" width="25.20" height="18.10" fill="#00FF00"/>
<rect x="955.66" y="667.60" width="25.20" height="9.50" fill="#6699FF"/>
<rect x="955.66" y="666.30" width="25.20" height="1.30" fill="#CC33FF"/>
<rect x="1001.00" y="939.00" width="25.20" height="298.00" fill="#FF0000"/>
<rect x="1001.00" y="811.20" width="25.20" height="127.80" fill="#FF9900"/>
<rect x="1001.00" y="731.70" width="25.20" height="79.50" fill="#FFCC00"/>
<rect x="1001.00" y="669.00" width="25.20" height="62.70" fill="#00FF00"/>
<rect x="1001.00" y="667.40" width="25.20" height="1.60" fill="#CC33FF"/>
<rect x="1001.00" y="666.30" width="25.20" height="1.10" fill="#FFCC00"/>
<rect x="1046.33" y="845.10" width="25.20" height="391.90" fill="#FF0000"/>
<rect x="1046.33" y="689.30" width="25.20" height="155.80" fill="#FF9900"/>
<rect x="1046.33" y="681.40" width="25.20" height="7.90" fill="#FFCC00"/>
<rect x="1046.33" y="670.80" width="25.20" height="10.60" fill="#00FF00"/>
<rect x="1046.33" y="666.30" width="25.20" height="4.50" fill="#CC33FF"/>
<rect x="1091.66" y="736.70" width="25.20" height="500.30" fill="#FF0000"/>
<rect x="1091.66" y="673.10" width="25.20" height="63.60" fill="#FF9900"/>
<rect x="1091.66" y="669.00" width="25.20" height="4.10" fill="#FFCC00"/>
<rect x="1091.66" y="667.60" width="25.20" height="1.40" fill="#00FF00"/>
<rect x="1091.66" y="666.30" width="25.20" height="1.30" fill="#CC33FF"/>
<rect x="1137.00" y="799.70" width="25.20" height="437.30" fill="#FF0000"/>
<rect x="1137.00" y="681.60" width="25.20" height="118.10" fill="#FF9900"/>
<rect x="1137.00" y="671.30" width="25.20" height="10.30" fill="#FFCC00"/>
<rect x="1137.00" y="670.40" width="25.20" height="0.90" fill="#00FF00"/>
<rect x="1137.00" y="669.10" width="25.20" height="1.30" fill="#6699FF"/>
<rect x="1137.00" y="666.30" width="25.20" height="2.80" fill="#CC33FF"/>
<rect x="1182.34" y="801.70" width="25.20" height="435.30" fill="#FF0000"/>
<rect x="1182.34" y="678.70" width="25.20" height="123.00" fill="#FF9900"/>
<rect x="1182.34" y="670.30" width="25.20" height="8.40" fill="#FFCC00"/>
<rect x="1182.34" y="668.50" width="25.20" height="1.80" fill="#00FF00"/>
<rect x="1182.34" y="666.30" width="25.20" height="2.20" fill="#CC33FF"/>
<rect x="1227.67" y="893.60" width="25.20" height="343.40" fill="#FF0000"/>
<rect x="1227.67" y="677.60" width="25.20" height="216.00" fill="#FF9900"/>
<rect x="1227.67" y="668.50" width="25.20" height="9.10" fill="#FFCC00"/>
<rect x="1227.67" y="666.30" width="25.20" height="2.20" fill="#CC33FF"/>
<rect x="1273.00" y="934.00" width="25.20" height="303.00" fill="#FF0000"/>
<rect x="1273.00" y="707.60" width="25.20" height="226.40" fill="#FF9900"/>
<rect x="1273.00" y="692.20" width="25.20" height="15.40" fill="#FFCC00"/>
<rect x="1273.00" y="677.60" width="25.20" height="14.60" fill="#6699FF"/>
<rect x="1273.00" y="671.90" width="25.20" height="5.70" fill="#CC33FF"/>
<rect x="1273.00" y="666.30" width="25.20" height="5.60" fill="#999900"/>
<line x1="187.50" y1="666.10" x2="187.50" y2="1238.20" stroke="#000" stroke-width="2.50" stroke-linecap="butt"/>
<line x1="170.50" y1="1237.00" x2="187.50" y2="1237.00" stroke="#000" stroke-width="2.50" stroke-linecap="butt"/>
<text x="156.98" y="1245.72" font-size="25.20" fill="#000" text-anchor="end">0</text>
<line x1="170.50" y1="1122.86" x2="187.50" y2="1122.86" stroke="#000" stroke-width="2.50" stroke-linecap="butt"/>
<text x="156.98" y="1131.58" font-size="25.20" fill="#000" text-anchor="end">20</text>
<line x1="170.50" y1="1008.72" x2="187.50" y2="1008.72" stroke="#000" stroke-width="2.50" stroke-linecap="butt"/>
<text x="156.98" y="1017.44" font-size="25.20" fill="#000" text-anchor="end">40</text>
<line x1="170.50" y1="894.58" x2="187.50" y2="894.58" stroke="#000" stroke-width="2.50" stroke-linecap="butt"/>
<text x="156.98" y="903.30" font-size="25.20" fill="#000" text-anchor="end">60</text>
<line x1="170.50" y1="780.44" x2="187.50" y2="780.44" stroke="#000" stroke-width="2.50" stroke-linecap="butt"/>
<text x="156.98" y="789.16" font-size="25.20" fill="#000" text-anchor="end">80</text>
<line x1="170.50" y1="666.30" x2="187.50" y2="666.30" stroke="#000" stroke-width="2.50" stroke-linecap="butt"/>
<text x="156.98" y="675.02" font-size="25.20" fill="#000" text-anchor="end">100</text>
<text transform="translate(89.00 1149.60) rotate(-90)" x="-3.10" y="0" font-size="37.80" fill="#000" text-anchor="start">Relative abundance(%)</text>
<text transform="translate(248.40 1287.60) rotate(-90)" x="-0.82" y="0" font-size="18.00" fill="#000" text-anchor="start">S1</text>
<text transform="translate(293.74 1287.60) rotate(-90)" x="-0.82" y="0" font-size="18.00" fill="#000" text-anchor="start">S2</text>
<text transform="translate(339.07 1287.60) rotate(-90)" x="-0.82" y="0" font-size="18.00" fill="#000" text-anchor="start">S3</text>
<text transform="translate(384.41 1287.60) rotate(-90)" x="-0.82" y="0" font-size="18.00" fill="#000" text-anchor="start">S4</text>
<text transform="translate(429.74 1287.60) rotate(-90)" x="-0.82" y="0" font-size="18.00" fill="#000" text-anchor="start">S5</text>
<text transform="translate(475.08 1287.60) rotate(-90)" x="-0.82" y="0" font-size="18.00" fill="#000" text-anchor="start">S6</text>
<text transform="translate(520.41 1287.60) rotate(-90)" x="-0.82" y="0" font-size="18.00" fill="#000" text-anchor="start">S7</text>
<text transform="translate(565.75 1287.60) rotate(-90)" x="-0.82" y="0" font-size="18.00" fill="#000" text-anchor="start">S8</text>
<text transform="translate(611.08 1287.60) rotate(-90)" x="-0.91" y="0" font-size="18.00" fill="#000" text-anchor="start">C1</text>
<text transform="translate(656.42 1287.60) rotate(-90)" x="-0.91" y="0" font-size="18.00" fill="#000" text-anchor="start">C2</text>
<text transform="translate(701.75 1287.60) rotate(-90)" x="-0.91" y="0" font-size="18.00" fill="#000" text-anchor="start">C3</text>
<text transform="translate(747.09 1287.60) rotate(-90)" x="-0.91" y="0" font-size="18.00" fill="#000" text-anchor="start">C4</text>
<text transform="translate(792.42 1287.60) rotate(-90)" x="-0.91" y="0" font-size="18.00" fill="#000" text-anchor="start">C5</text>
<text transform="translate(837.75 1287.60) rotate(-90)" x="-0.91" y="0" font-size="18.00" fill="#000" text-anchor="start">C6</text>
<text transform="translate(883.09 1287.60) rotate(-90)" x="-0.91" y="0" font-size="18.00" fill="#000" text-anchor="start">C7</text>
<text transform="translate(928.43 1287.60) rotate(-90)" x="-0.91" y="0" font-size="18.00" fill="#000" text-anchor="start">C8</text>
<text transform="translate(973.76 1287.60) rotate(-90)" x="-1.48" y="0" font-size="18.00" fill="#000" text-anchor="start">N1</text>
<text transform="translate(1019.10 1287.60) rotate(-90)" x="-1.48" y="0" font-size="18.00" fill="#000" text-anchor="start">N2</text>
<text transform="translate(1064.43 1287.60) rotate(-90)" x="-1.48" y="0" font-size="18.00" fill="#000" text-anchor="start">N3</text>
<text transform="translate(1109.76 1287.60) rotate(-90)" x="-1.48" y="0" font-size="18.00" fill="#000" text-anchor="start">N4</text>
<text transform="translate(1155.10 1287.60) rotate(-90)" x="-1.48" y="0" font-size="18.00" fill="#000" text-anchor="start">N5</text>
<text transform="translate(1200.43 1287.60) rotate(-90)" x="-1.48" y="0" font-size="18.00" fill="#000" text-anchor="start">N6</text>
<text transform="translate(1245.77 1287.60) rotate(-90)" x="-1.48" y="0" font-size="18.00" fill="#000" text-anchor="start">N7</text>
<text transform="translate(1291.10 1287.60) rotate(-90)" x="-1.48" y="0" font-size="18.00" fill="#000" text-anchor="start">N8</text>
<text x="1351.53" y="727.80" font-size="51.90" font-weight="bold" fill="#000" text-anchor="start">Phylum</text>
<rect x="1356.70" y="766.30" width="16.60" height="13.80" fill="#FF0000"/>
<text x="1384.21" y="781.70" font-size="24.30" fill="#000" text-anchor="start">Bacteroidetes</text>
<rect x="1356.70" y="793.36" width="16.60" height="13.80" fill="#FF9900"/>
<text x="1384.21" y="808.76" font-size="24.30" fill="#000" text-anchor="start">Firmicutes</text>
<rect x="1356.70" y="820.42" width="16.60" height="13.80" fill="#FFCC00"/>
<text x="1384.21" y="835.82" font-size="24.30" fill="#000" text-anchor="start">Proteobacteria</text>
<rect x="1356.70" y="847.48" width="16.60" height="13.80" fill="#00FF00"/>
<text x="1384.21" y="862.88" font-size="24.30" fill="#000" text-anchor="start">Epsilonbacteraeota</text>
<rect x="1356.70" y="874.54" width="16.60" height="13.80" fill="#6699FF"/>
<text x="1384.21" y="889.94" font-size="24.30" fill="#000" text-anchor="start">Deferribacteres</text>
<rect x="1356.70" y="901.60" width="16.60" height="13.80" fill="#CC33FF"/>
<text x="1386.15" y="917.00" font-size="24.30" fill="#000" text-anchor="start">Actinobacteria</text>
<rect x="1356.70" y="928.66" width="16.60" height="13.80" fill="#999900"/>
<text x="1384.98" y="944.06" font-size="24.30" fill="#000" text-anchor="start">Gemmatimonadetes</text>
<rect x="1356.70" y="955.72" width="16.60" height="13.80" fill="#999999"/>
<text x="1386.15" y="971.12" font-size="24.30" fill="#000" text-anchor="start">Acidobacteria</text>
<rect x="1358.00" y="986.40" width="16.60" height="13.80" fill="#FF00CC"/>
<text x="1385.55" y="1001.80" font-size="24.30" fill="#000" text-anchor="start">Tenericutes</text>
<rect x="1358.00" y="1013.41" width="16.60" height="13.80" fill="#CC0000"/>
<text x="1384.11" y="1028.81" font-size="24.30" fill="#000" text-anchor="start">Nitrospirae</text>
<rect x="1358.00" y="1040.42" width="16.60" height="13.80" fill="#FFCCCC"/>
<text x="1384.11" y="1055.82" font-size="24.30" fill="#000" text-anchor="start">Fusobacteria</text>
<rect x="1358.00" y="1067.43" width="16.60" height="13.80" fill="#FFFF00"/>
<text x="1385.99" y="1082.83" font-size="24.30" fill="#000" text-anchor="start">Verrucomicrobia</text>
<rect x="1358.00" y="1094.44" width="16.60" height="13.80" fill="#CCFF00"/>
<text x="1384.87" y="1109.84" font-size="24.30" fill="#000" text-anchor="start">Cyanobacteria</text>
<rect x="1358.00" y="1121.45" width="16.60" height="13.80" fill="#338000"/>
<text x="1384.11" y="1136.85" font-size="24.30" fill="#000" text-anchor="start">Patescibacteria</text>
<rect x="1358.00" y="1148.46" width="16.60" height="13.80" fill="#0000CC"/>
<text x="1384.11" y="1163.86" font-size="24.30" fill="#000" text-anchor="start">Elusimicrobia</text>
<rect x="1358.00" y="1175.47" width="16.60" height="13.80" fill="#99CCFF"/>
<text x="1385.08" y="1190.87" font-size="24.30" fill="#000" text-anchor="start">others</text>
<text x="9.89" y="1334.60" font-size="30.00" font-weight="bold" fill="#000" text-anchor="start">E</text>
<rect x="230.30" y="1722.00" width="25.20" height="187.40" fill="#FF0000"/>
<rect x="230.30" y="1700.30" width="25.20" height="21.70" fill="#FFCC00"/>
<rect x="230.30" y="1697.30" width="25.20" height="3.00" fill="#6699FF"/>
<rect x="230.30" y="1610.80" width="25.20" height="86.50" fill="#999922"/>
<rect x="230.30" y="1582.20" width="25.20" height="28.60" fill="#CC0000"/>
<rect x="230.30" y="1574.50" width="25.20" height="7.70" fill="#FFCCCC"/>
<rect x="230.30" y="1573.30" width="25.20" height="1.20" fill="#338000"/>
<rect x="230.30" y="1338.80" width="25.20" height="234.50" fill="#99CCFF"/>
<rect x="275.63" y="1541.80" width="25.20" height="367.60" fill="#FF0000"/>
<rect x="275.63" y="1539.70" width="25.20" height="2.10" fill="#FFCC00"/>
<rect x="275.63" y="1536.10" width="25.20" height="3.60" fill="#6699FF"/>
<rect x="275.63" y="1504.30" width="25.20" height="31.80" fill="#999922"/>
<rect x="275.63" y="1457.00" width="25.20" height="47.30" fill="#CC0000"/>
<rect x="275.63" y="1443.00" width="25.20" height="14.00" fill="#FFCCCC"/>
<rect x="275.63" y="1415.70" width="25.20" height="27.30" fill="#CCFF00"/>
<rect x="275.63" y="1338.80" width="25.20" height="76.90" fill="#99CCFF"/>
<rect x="320.97" y="1856.50" width="25.20" height="52.90" fill="#FF0000"/>
<rect x="320.97" y="1834.20" width="25.20" height="22.30" fill="#FF9900"/>
<rect x="320.97" y="1814.20" width="25.20" height="20.00" fill="#00FF00"/>
<rect x="320.97" y="1811.30" width="25.20" height="2.90" fill="#6699FF"/>
<rect x="320.97" y="1797.00" width="25.20" height="14.30" fill="#CC33FF"/>
<rect x="320.97" y="1790.50" width="25.20" height="6.50" fill="#FF00CC"/>
<rect x="320.97" y="1788.00" width="25.20" height="2.50" fill="#CC0000"/>
<rect x="320.97" y="1784.00" width="25.20" height="4.00" fill="#FFFF00"/>
<rect x="320.97" y="1780.90" width="25.20" height="3.10" fill="#CCFF00"/>
<rect x="320.97" y="1776.80" width="25.20" height="4.10" fill="#338000"/>
<rect x="320.97" y="1775.30" width="25.20" height="1.50" fill="#0000CC"/>
<rect x="320.97" y="1338.80" width="25.20" height="436.50" fill="#99CCFF"/>
<rect x="366.31" y="1889.80" width="25.20" height="19.60" fill="#FF0000"/>
<rect x="366.31" y="1865.40" width="25.20" height="24.40" fill="#FF9900"/>
<rect x="366.31" y="1827.30" width="25.20" height="38.10" fill="#00FF00"/>
<rect x="366.31" y="1814.20" width="25.20" height="13.10" fill="#6699FF"/>
<rect x="366.31" y="1794.00" width="25.20" height="20.20" fill="#CC33FF"/>
<rect x="366.31" y="1790.40" width="25.20" height="3.60" fill="#FF00CC"/>
<rect x="366.31" y="1783.60" width="25.20" height="6.80" fill="#CC0000"/>
<rect x="366.31" y="1780.00" width="25.20" height="3.60" fill="#FFFF00"/>
<rect x="366.31" y="1777.60" width="25.20" height="2.40" fill="#CCFF00"/>
<rect x="366.31" y="1774.10" width="25.20" height="3.50" fill="#338000"/>
<rect x="366.31" y="1769.30" width="25.20" height="4.80" fill="#0000CC"/>
<rect x="366.31" y="1338.80" width="25.20" height="430.50" fill="#99CCFF"/>
<rect x="411.64" y="1871.90" width="25.20" height="37.50" fill="#FF0000"/>
<rect x="411.64" y="1854.10" width="25.20" height="17.80" fill="#FF9900"/>
<rect x="411.64" y="1847.50" width="25.20" height="6.60" fill="#00FF00"/>
<rect x="411.64" y="1845.50" width="25.20" height="2.00" fill="#6699FF"/>
<rect x="411.64" y="1843.10" width="25.20" height="2.40" fill="#CC33FF"/>
<rect x="411.64" y="1840.10" width="25.20" height="3.00" fill="#FF00CC"/>
<rect x="411.64" y="1835.00" width="25.20" height="5.10" fill="#CC0000"/>
<rect x="411.64" y="1832.70" width="25.20" height="2.30" fill="#FFFF00"/>
<rect x="411.64" y="1829.70" width="25.20" height="3.00" fill="#CCFF00"/>
<rect x="411.64" y="1822.90" width="25.20" height="6.80" fill="#338000"/>
<rect x="411.64" y="1338.80" width="25.20" height="484.10" fill="#99CCFF"/>
<rect x="456.98" y="1838.60" width="25.20" height="70.80" fill="#FF0000"/>
<rect x="456.98" y="1814.20" width="25.20" height="24.40" fill="#FF9900"/>
<rect x="456.98" y="1788.00" width="25.20" height="26.20" fill="#00FF00"/>
<rect x="456.98" y="1778.50" width="25.20" height="9.50" fill="#CC33FF"/>
<rect x="456.98" y="1776.50" width="25.20" height="2.00" fill="#FF00CC"/>
<rect x="456.98" y="1774.10" width="25.20" height="2.40" fill="#CC0000"/>
<rect x="456.98" y="1769.60" width="25.20" height="4.50" fill="#FFCCCC"/>
<rect x="456.98" y="1766.00" width="25.20" height="3.60" fill="#FFFF00"/>
<rect x="456.98" y="1763.70" width="25.20" height="2.30" fill="#CCFF00"/>
<rect x="456.98" y="1760.10" width="25.20" height="3.60" fill="#338000"/>
<rect x="456.98" y="1758.30" width="25.20" height="1.80" fill="#0000CC"/>
<rect x="456.98" y="1338.80" width="25.20" height="419.50" fill="#99CCFF"/>
<rect x="502.31" y="1681.00" width="25.20" height="228.40" fill="#FF0000"/>
<rect x="502.31" y="1676.50" width="25.20" height="4.50" fill="#FF9900"/>
<rect x="502.31" y="1598.60" width="25.20" height="77.90" fill="#FFCC00"/>
<rect x="502.31" y="1588.20" width="25.20" height="10.40" fill="#00FF00"/>
<rect x="502.31" y="1586.40" width="25.20" height="1.80" fill="#999999"/>
<rect x="502.31" y="1582.80" width="25.20" height="3.60" fill="#CC0000"/>
<rect x="502.31" y="1526.90" width="25.20" height="55.90" fill="#FFCCCC"/>
<rect x="502.31" y="1473.70" width="25.20" height="53.20" fill="#FFFF00"/>
<rect x="502.31" y="1467.70" width="25.20" height="6.00" fill="#CCFF00"/>
<rect x="502.31" y="1462.40" width="25.20" height="5.30" fill="#0000CC"/>
<rect x="502.31" y="1338.80" width="25.20" height="123.60" fill="#99CCFF"/>
<rect x="547.64" y="1868.40" width="25.20" height="41.00" fill="#FF0000"/>
<rect x="547.64" y="1851.10" width="25.20" height="17.30" fill="#FF9900"/>
<rect x="547.64" y="1834.80" width="25.20" height="16.30" fill="#00FF00"/>
<rect x="547.64" y="1782.10" width="25.20" height="52.70" fill="#6699FF"/>
<rect x="547.64" y="1754.70" width="25.20" height="27.40" fill="#CC33FF"/>
<rect x="547.64" y="1723.20" width="25.20" height="31.50" fill="#999922"/>
<rect x="547.64" y="1700.30" width="25.20" height="22.90" fill="#999999"/>
<rect x="547.64" y="1673.60" width="25.20" height="26.70" fill="#FF00CC"/>
<rect x="547.64" y="1672.10" width="25.20" height="1.50" fill="#CC0000"/>
<rect x="547.64" y="1666.10" width="25.20" height="6.00" fill="#FFFF00"/>
<rect x="547.64" y="1658.10" width="25.20" height="8.00" fill="#338000"/>
<rect x="547.64" y="1652.10" width="25.20" height="6.00" fill="#0000CC"/>
<rect x="547.64" y="1338.80" width="25.20" height="313.30" fill="#99CCFF"/>
<rect x="592.98" y="1673.00" width="25.20" height="236.40" fill="#FF0000"/>
<rect x="592.98" y="1626.50" width="25.20" height="46.50" fill="#FFCC00"/>
<rect x="592.98" y="1621.50" width="25.20" height="5.00" fill="#00FF00"/>
<rect x="592.98" y="1575.40" width="25.20" height="46.10" fill="#6699FF"/>
<rect x="592.98" y="1572.40" width="25.20" height="3.00" fill="#CC33FF"/>
<rect x="592.98" y="1557.50" width="25.20" height="14.90" fill="#999922"/>
<rect x="592.98" y="1532.30" width="25.20" height="25.20" fill="#999999"/>
<rect x="592.98" y="1530.80" width="25.20" height="1.50" fill="#CC0000"/>
<rect x="592.98" y="1526.30" width="25.20" height="4.50" fill="#FFCCCC"/>
<rect x="592.98" y="1522.70" width="25.20" height="3.60" fill="#FFFF00"/>
<rect x="592.98" y="1492.70" width="25.20" height="30.00" fill="#0000CC"/>
<rect x="592.98" y="1338.80" width="25.20" height="153.90" fill="#99CCFF"/>
<rect x="638.32" y="1886.20" width="25.20" height="23.20" fill="#FF0000"/>
<rect x="638.32" y="1868.40" width="25.20" height="17.80" fill="#FF9900"/>
<rect x="638.32" y="1792.50" width="25.20" height="75.90" fill="#FFCC00"/>
<rect x="638.32" y="1782.70" width="25.20" height="9.80" fill="#00FF00"/>
<rect x="638.32" y="1768.70" width="25.20" height="14.00" fill="#6699FF"/>
<rect x="638.32" y="1753.90" width="25.20" height="14.80" fill="#CC33FF"/>
<rect x="638.32" y="1731.50" width="25.20" height="22.40" fill="#999922"/>
<rect x="638.32" y="1725.60" width="25.20" height="5.90" fill="#999999"/>
<rect x="638.32" y="1706.30" width="25.20" height="19.30" fill="#FF00CC"/>
<rect x="638.32" y="1678.00" width="25.20" height="28.30" fill="#CC0000"/>
<rect x="638.32" y="1660.80" width="25.20" height="17.20" fill="#FFCCCC"/>
<rect x="638.32" y="1644.70" width="25.20" height="16.10" fill="#FFFF00"/>
<rect x="638.32" y="1641.10" width="25.20" height="3.60" fill="#338000"/>
<rect x="638.32" y="1638.20" width="25.20" height="2.90" fill="#0000CC"/>
<rect x="638.32" y="1338.80" width="25.20" height="299.40" fill="#99CCFF"/>
<rect x="683.65" y="1858.90" width="25.20" height="50.50" fill="#FF0000"/>
<rect x="683.65" y="1847.00" width="25.20" height="11.90" fill="#FF9900"/>
<rect x="683.65" y="1838.60" width="25.20" height="8.40" fill="#00FF00"/>
<rect x="683.65" y="1813.30" width="25.20" height="25.30" fill="#6699FF"/>
<rect x="683.65" y="1809.50" width="25.20" height="3.80" fill="#CC33FF"/>
<rect x="683.65" y="1807.50" width="25.20" height="2.00" fill="#999922"/>
<rect x="683.65" y="1805.00" width="25.20" height="2.50" fill="#FF00CC"/>
<rect x="683.65" y="1802.30" width="25.20" height="2.70" fill="#CC0000"/>
<rect x="683.65" y="1798.00" width="25.20" height="4.30" fill="#FFFF00"/>
<rect x="683.65" y="1796.00" width="25.20" height="2.00" fill="#CCFF00"/>
<rect x="683.65" y="1793.40" width="25.20" height="2.60" fill="#338000"/>
<rect x="683.65" y="1789.50" width="25.20" height="3.90" fill="#0000CC"/>
<rect x="683.65" y="1338.80" width="25.20" height="450.70" fill="#99CCFF"/>
<rect x="728.99" y="1874.30" width="25.20" height="35.10" fill="#FF0000"/>
<rect x="728.99" y="1855.90" width="25.20" height="18.40" fill="#FF9900"/>
<rect x="728.99" y="1851.10" width="25.20" height="4.80" fill="#00FF00"/>
<rect x="728.99" y="1832.70" width="25.20" height="18.40" fill="#6699FF"/>
<rect x="728.99" y="1828.20" width="25.20" height="4.50" fill="#CC33FF"/>
<rect x="728.99" y="1826.30" width="25.20" height="1.90" fill="#999922"/>
<rect x="728.99" y="1824.40" width="25.20" height="1.90" fill="#FF00CC"/>
<rect x="728.99" y="1821.40" width="25.20" height="3.00" fill="#CC0000"/>
<rect x="728.99" y="1808.30" width="25.20" height="13.10" fill="#FFFF00"/>
<rect x="728.99" y="1805.90" width="25.20" height="2.40" fill="#338000"/>
<rect x="728.99" y="1804.40" width="25.20" height="1.50" fill="#0000CC"/>
<rect x="728.99" y="1338.80" width="25.20" height="465.60" fill="#99CCFF"/>
<rect x="774.32" y="1901.70" width="25.20" height="7.70" fill="#FF0000"/>
<rect x="774.32" y="1844.60" width="25.20" height="57.10" fill="#FF9900"/>
<rect x="774.32" y="1837.10" width="25.20" height="7.50" fill="#FFCC00"/>
<rect x="774.32" y="1819.30" width="25.20" height="17.80" fill="#00FF00"/>
<rect x="774.32" y="1794.00" width="25.20" height="25.30" fill="#CC33FF"/>
<rect x="774.32" y="1792.50" width="25.20" height="1.50" fill="#999922"/>
<rect x="774.32" y="1785.70" width="25.20" height="6.80" fill="#999999"/>
<rect x="774.32" y="1782.10" width="25.20" height="3.60" fill="#FF00CC"/>
<rect x="774.32" y="1778.50" width="25.20" height="3.60" fill="#FFCCCC"/>
<rect x="774.32" y="1775.00" width="25.20" height="3.50" fill="#CCFF00"/>
<rect x="774.32" y="1773.20" width="25.20" height="1.80" fill="#338000"/>
<rect x="774.32" y="1338.80" width="25.20" height="434.40" fill="#99CCFF"/>
<rect x="819.65" y="1901.70" width="25.20" height="7.70" fill="#FF0000"/>
<rect x="819.65" y="1785.70" width="25.20" height="116.00" fill="#FF9900"/>
<rect x="819.65" y="1769.60" width="25.20" height="16.10" fill="#00FF00"/>
<rect x="819.65" y="1746.40" width="25.20" height="23.20" fill="#CC33FF"/>
<rect x="819.65" y="1744.00" width="25.20" height="2.40" fill="#999922"/>
<rect x="819.65" y="1735.10" width="25.20" height="8.90" fill="#999999"/>
<rect x="819.65" y="1733.60" width="25.20" height="1.50" fill="#CC0000"/>
<rect x="819.65" y="1732.10" width="25.20" height="1.50" fill="#FFFF00"/>
<rect x="819.65" y="1722.00" width="25.20" height="10.10" fill="#CCFF00"/>
<rect x="819.65" y="1718.20" width="25.20" height="3.80" fill="#338000"/>
<rect x="819.65" y="1716.10" width="25.20" height="2.10" fill="#0000CC"/>
<rect x="819.65" y="1338.80" width="25.20" height="377.30" fill="#99CCFF"/>
<rect x="864.99" y="1833.30" width="25.20" height="76.10" fill="#FF0000"/>
<rect x="864.99" y="1814.80" width="25.20" height="18.50" fill="#FF9900"/>
<rect x="864.99" y="1725.00" width="25.20" height="89.80" fill="#FFCC00"/>
<rect x="864.99" y="1712.20" width="25.20" height="12.80" fill="#00FF00"/>
<rect x="864.99" y="1689.00" width="25.20" height="23.20" fill="#6699FF"/>
<rect x="864.99" y="1681.00" width="25.20" height="8.00" fill="#CC33FF"/>
<rect x="864.99" y="1656.30" width="25.20" height="24.70" fill="#999922"/>
<rect x="864.99" y="1644.40" width="25.20" height="11.90" fill="#999999"/>
<rect x="864.99" y="1588.80" width="25.20" height="55.60" fill="#FF00CC"/>
<rect x="864.99" y="1569.40" width="25.20" height="19.40" fill="#CC0000"/>
<rect x="864.99" y="1551.60" width="25.20" height="17.80" fill="#FFFF00"/>
<rect x="864.99" y="1540.60" width="25.20" height="11.00" fill="#338000"/>
<rect x="864.99" y="1539.10" width="25.20" height="1.50" fill="#0000CC"/>
<rect x="864.99" y="1338.80" width="25.20" height="200.30" fill="#99CCFF"/>
<rect x="910.33" y="1881.80" width="25.20" height="27.60" fill="#FF0000"/>
<rect x="910.33" y="1781.50" width="25.20" height="100.30" fill="#FF9900"/>
<rect x="910.33" y="1754.70" width="25.20" height="26.80" fill="#00FF00"/>
<rect x="910.33" y="1747.00" width="25.20" height="7.70" fill="#CC33FF"/>
<rect x="910.33" y="1744.90" width="25.20" height="2.10" fill="#999999"/>
<rect x="910.33" y="1739.90" width="25.20" height="5.00" fill="#FF00CC"/>
<rect x="910.33" y="1737.50" width="25.20" height="2.40" fill="#CC0000"/>
<rect x="910.33" y="1733.60" width="25.20" height="3.90" fill="#FFFF00"/>
<rect x="910.33" y="1732.10" width="25.20" height="1.50" fill="#0000CC"/>
<rect x="910.33" y="1338.80" width="25.20" height="393.30" fill="#99CCFF"/>
<rect x="955.66" y="1878.80" width="25.20" height="30.60" fill="#FF0000"/>
<rect x="955.66" y="1797.60" width="25.20" height="81.20" fill="#FF9900"/>
<rect x="955.66" y="1795.50" width="25.20" height="2.10" fill="#FFCC00"/>
<rect x="955.66" y="1765.80" width="25.20" height="29.70" fill="#00FF00"/>
<rect x="955.66" y="1747.90" width="25.20" height="17.90" fill="#6699FF"/>
<rect x="955.66" y="1745.50" width="25.20" height="2.40" fill="#CC33FF"/>
<rect x="955.66" y="1625.40" width="25.20" height="120.10" fill="#999999"/>
<rect x="955.66" y="1612.00" width="25.20" height="13.40" fill="#FF00CC"/>
<rect x="955.66" y="1607.50" width="25.20" height="4.50" fill="#CC0000"/>
<rect x="955.66" y="1596.20" width="25.20" height="11.30" fill="#FFCCCC"/>
<rect x="955.66" y="1592.50" width="25.20" height="3.70" fill="#FFFF00"/>
<rect x="955.66" y="1589.40" width="25.20" height="3.10" fill="#CCFF00"/>
<rect x="955.66" y="1580.40" width="25.20" height="9.00" fill="#0000CC"/>
<rect x="955.66" y="1338.80" width="25.20" height="241.60" fill="#99CCFF"/>
<rect x="1001.00" y="1892.80" width="25.20" height="16.60" fill="#FF0000"/>
<rect x="1001.00" y="1845.50" width="25.20" height="47.30" fill="#FF9900"/>
<rect x="1001.00" y="1773.20" width="25.20" height="72.30" fill="#FFCC00"/>
<rect x="1001.00" y="1768.10" width="25.20" height="5.10" fill="#00FF00"/>
<rect x="1001.00" y="1706.30" width="25.20" height="61.80" fill="#6699FF"/>
<rect x="1001.00" y="1697.90" width="25.20" height="8.40" fill="#CC33FF"/>
<rect x="1001.00" y="1673.00" width="25.20" height="24.90" fill="#999922"/>
<rect x="1001.00" y="1664.00" width="25.20" height="9.00" fill="#999999"/>
<rect x="1001.00" y="1616.10" width="25.20" height="47.90" fill="#FF00CC"/>
<rect x="1001.00" y="1612.60" width="25.20" height="3.50" fill="#CC0000"/>
<rect x="1001.00" y="1609.60" width="25.20" height="3.00" fill="#FFCCCC"/>
<rect x="1001.00" y="1596.20" width="25.20" height="13.40" fill="#FFFF00"/>
<rect x="1001.00" y="1585.80" width="25.20" height="10.40" fill="#338000"/>
<rect x="1001.00" y="1338.80" width="25.20" height="247.00" fill="#99CCFF"/>
<rect x="1046.33" y="1881.80" width="25.20" height="27.60" fill="#FF0000"/>
<rect x="1046.33" y="1820.80" width="25.20" height="61.00" fill="#FF9900"/>
<rect x="1046.33" y="1811.30" width="25.20" height="9.50" fill="#00FF00"/>
<rect x="1046.33" y="1800.90" width="25.20" height="10.40" fill="#6699FF"/>
<rect x="1046.33" y="1798.50" width="25.20" height="2.40" fill="#CC33FF"/>
<rect x="1046.33" y="1796.40" width="25.20" height="2.10" fill="#999922"/>
<rect x="1046.33" y="1794.50" width="25.20" height="1.90" fill="#FF00CC"/>
<rect x="1046.33" y="1791.60" width="25.20" height="2.90" fill="#CC0000"/>
<rect x="1046.33" y="1788.00" width="25.20" height="3.60" fill="#FFFF00"/>
<rect x="1046.33" y="1785.10" width="25.20" height="2.90" fill="#CCFF00"/>
<rect x="1046.33" y="1781.50" width="25.20" height="3.60" fill="#338000"/>
<rect x="1046.33" y="1338.80" width="25.20" height="442.70" fill="#99CCFF"/>
<rect x="1091.66" y="1886.20" width="25.20" height="23.20" fill="#FF0000"/>
<rect x="1091.66" y="1871.30" width="25.20" height="14.90" fill="#FF9900"/>
<rect x="1091.66" y="1865.40" width="25.20" height="5.90" fill="#00FF00"/>
<rect x="1091.66" y="1860.30" width="25.20" height="5.10" fill="#CC33FF"/>
<rect x="1091.66" y="1849.90" width="25.20" height="10.40" fill="#FF00CC"/>
<rect x="1091.66" y="1846.00" width="25.20" height="3.90" fill="#FFCCCC"/>
<rect x="1091.66" y="1842.20" width="25.20" height="3.80" fill="#CCFF00"/>
<rect x="1091.66" y="1841.00" width="25.20" height="1.20" fill="#338000"/>
<rect x="1091.66" y="1338.80" width="25.20" height="502.20" fill="#99CCFF"/>
<rect x="1137.00" y="1889.20" width="25.20" height="20.20" fill="#FF0000"/>
<rect x="1137.00" y="1869.90" width="25.20" height="19.30" fill="#FF9900"/>
<rect x="1137.00" y="1855.90" width="25.20" height="14.00" fill="#00FF00"/>
<rect x="1137.00" y="1835.70" width="25.20" height="20.20" fill="#CC33FF"/>
<rect x="1137.00" y="1834.20" width="25.20" height="1.50" fill="#999922"/>
<rect x="1137.00" y="1810.40" width="25.20" height="23.80" fill="#999999"/>
<rect x="1137.00" y="1807.40" width="25.20" height="3.00" fill="#FF00CC"/>
<rect x="1137.00" y="1805.30" width="25.20" height="2.10" fill="#CC0000"/>
<rect x="1137.00" y="1802.50" width="25.20" height="2.80" fill="#FFFF00"/>
<rect x="1137.00" y="1800.00" width="25.20" height="2.50" fill="#CCFF00"/>
<rect x="1137.00" y="1791.90" width="25.20" height="8.10" fill="#338000"/>
<rect x="1137.00" y="1790.40" width="25.20" height="1.50" fill="#0000CC"/>
<rect x="1137.00" y="1338.80" width="25.20" height="451.60" fill="#99CCFF"/>
<rect x="1182.34" y="1886.20" width="25.20" height="23.20" fill="#FF0000"/>
<rect x="1182.34" y="1852.00" width="25.20" height="34.20" fill="#FF9900"/>
<rect x="1182.34" y="1841.60" width="25.20" height="10.40" fill="#00FF00"/>
<rect x="1182.34" y="1810.40" width="25.20" height="31.20" fill="#CC33FF"/>
<rect x="1182.34" y="1807.40" width="25.20" height="3.00" fill="#999999"/>
<rect x="1182.34" y="1801.50" width="25.20" height="5.90" fill="#FF00CC"/>
<rect x="1182.34" y="1798.50" width="25.20" height="3.00" fill="#CC0000"/>
<rect x="1182.34" y="1796.40" width="25.20" height="2.10" fill="#FFCCCC"/>
<rect x="1182.34" y="1793.50" width="25.20" height="2.90" fill="#FFFF00"/>
<rect x="1182.34" y="1791.00" width="25.20" height="2.50" fill="#CCFF00"/>
<rect x="1182.34" y="1784.50" width="25.20" height="6.50" fill="#338000"/>
<rect x="1182.34" y="1338.80" width="25.20" height="445.70" fill="#99CCFF"/>
<rect x="1227.67" y="1901.10" width="25.20" height="8.30" fill="#FF0000"/>
<rect x="1227.67" y="1812.50" width="25.20" height="88.60" fill="#FF9900"/>
<rect x="1227.67" y="1794.90" width="25.20" height="17.60" fill="#00FF00"/>
<rect x="1227.67" y="1769.60" width="25.20" height="25.30" fill="#CC33FF"/>
<rect x="1227.67" y="1766.70" width="25.20" height="2.90" fill="#999922"/>
<rect x="1227.67" y="1748.80" width="25.20" height="17.90" fill="#999999"/>
<rect x="1227.67" y="1745.80" width="25.20" height="3.00" fill="#CC0000"/>
<rect x="1227.67" y="1742.00" width="25.20" height="3.80" fill="#FFFF00"/>
<rect x="1227.67" y="1738.10" width="25.20" height="3.90" fill="#CCFF00"/>
<rect x="1227.67" y="1731.00" width="25.20" height="7.10" fill="#338000"/>
<rect x="1227.67" y="1729.50" width="25.20" height="1.50" fill="#0000CC"/>
<rect x="1227.67" y="1338.80" width="25.20" height="390.70" fill="#99CCFF"/>
<rect x="1273.00" y="1897.50" width="25.20" height="11.90" fill="#FF0000"/>
<rect x="1273.00" y="1785.10" width="25.20" height="112.40" fill="#FF9900"/>
<rect x="1273.00" y="1771.10" width="25.20" height="14.00" fill="#00FF00"/>
<rect x="1273.00" y="1764.30" width="25.20" height="6.80" fill="#CC33FF"/>
<rect x="1273.00" y="1761.90" width="25.20" height="2.40" fill="#FF00CC"/>
<rect x="1273.00" y="1753.90" width="25.20" height="8.00" fill="#FFCCCC"/>
<rect x="1273.00" y="1748.80" width="25.20" height="5.10" fill="#FFFF00"/>
<rect x="1273.00" y="1734.50" width="25.20" height="14.30" fill="#0000CC"/>
<rect x="1273.00" y="1338.80" width="25.20" height="395.70" fill="#99CCFF"/>
<line x1="187.70" y1="1338.60" x2="187.70" y2="1910.60" stroke="#000" stroke-width="2.50" stroke-linecap="butt"/>
<line x1="170.70" y1="1909.40" x2="187.70" y2="1909.40" stroke="#000" stroke-width="2.50" stroke-linecap="butt"/>
<text x="156.98" y="1918.12" font-size="25.20" fill="#000" text-anchor="end">0</text>
<line x1="170.70" y1="1795.28" x2="187.70" y2="1795.28" stroke="#000" stroke-width="2.50" stroke-linecap="butt"/>
<text x="156.98" y="1804.00" font-size="25.20" fill="#000" text-anchor="end">20</text>
<line x1="170.70" y1="1681.16" x2="187.70" y2="1681.16" stroke="#000" stroke-width="2.50" stroke-linecap="butt"/>
<text x="156.98" y="1689.88" font-size="25.20" fill="#000" text-anchor="end">40</text>
<line x1="170.70" y1="1567.04" x2="187.70" y2="1567.04" stroke="#000" stroke-width="2.50" stroke-linecap="butt"/>
<text x="156.98" y="1575.76" font-size="25.20" fill="#000" text-anchor="end">60</text>
<line x1="170.70" y1="1452.92" x2="187.70" y2="1452.92" stroke="#000" stroke-width="2.50" stroke-linecap="butt"/>
<text x="156.98" y="1461.64" font-size="25.20" fill="#000" text-anchor="end">80</text>
<line x1="170.70" y1="1338.80" x2="187.70" y2="1338.80" stroke="#000" stroke-width="2.50" stroke-linecap="butt"/>
<text x="156.98" y="1347.52" font-size="25.20" fill="#000" text-anchor="end">100</text>
<text transform="translate(89.00 1833.30) rotate(-90)" x="-3.10" y="0" font-size="37.80" fill="#000" text-anchor="start">Relative abundance(%)</text>
<text transform="translate(240.00 1960.60) rotate(-90)" x="-0.82" y="0" font-size="18.00" fill="#000" text-anchor="start">S1</text>
<text transform="translate(285.34 1960.60) rotate(-90)" x="-0.82" y="0" font-size="18.00" fill="#000" text-anchor="start">S2</text>
<text transform="translate(330.67 1960.60) rotate(-90)" x="-0.82" y="0" font-size="18.00" fill="#000" text-anchor="start">S3</text>
<text transform="translate(376.01 1960.60) rotate(-90)" x="-0.82" y="0" font-size="18.00" fill="#000" text-anchor="start">S4</text>
<text transform="translate(421.34 1960.60) rotate(-90)" x="-0.82" y="0" font-size="18.00" fill="#000" text-anchor="start">S5</text>
<text transform="translate(466.68 1960.60) rotate(-90)" x="-0.82" y="0" font-size="18.00" fill="#000" text-anchor="start">S6</text>
<text transform="translate(512.01 1960.60) rotate(-90)" x="-0.82" y="0" font-size="18.00" fill="#000" text-anchor="start">S7</text>
<text transform="translate(557.35 1960.60) rotate(-90)" x="-0.82" y="0" font-size="18.00" fill="#000" text-anchor="start">S8</text>
<text transform="translate(602.68 1960.60) rotate(-90)" x="-0.91" y="0" font-size="18.00" fill="#000" text-anchor="start">C1</text>
<text transform="translate(648.02 1960.60) rotate(-90)" x="-0.91" y="0" font-size="18.00" fill="#000" text-anchor="start">C2</text>
<text transform="translate(693.35 1960.60) rotate(-90)" x="-0.91" y="0" font-size="18.00" fill="#000" text-anchor="start">C3</text>
<text transform="translate(738.69 1960.60) rotate(-90)" x="-0.91" y="0" font-size="18.00" fill="#000" text-anchor="start">C4</text>
<text transform="translate(784.02 1960.60) rotate(-90)" x="-0.91" y="0" font-size="18.00" fill="#000" text-anchor="start">C5</text>
<text transform="translate(829.36 1960.60) rotate(-90)" x="-0.91" y="0" font-size="18.00" fill="#000" text-anchor="start">C6</text>
<text transform="translate(874.69 1960.60) rotate(-90)" x="-0.91" y="0" font-size="18.00" fill="#000" text-anchor="start">C7</text>
<text transform="translate(920.03 1960.60) rotate(-90)" x="-0.91" y="0" font-size="18.00" fill="#000" text-anchor="start">C8</text>
<text transform="translate(965.36 1960.60) rotate(-90)" x="-1.48" y="0" font-size="18.00" fill="#000" text-anchor="start">N1</text>
<text transform="translate(1010.70 1960.60) rotate(-90)" x="-1.48" y="0" font-size="18.00" fill="#000" text-anchor="start">N2</text>
<text transform="translate(1056.03 1960.60) rotate(-90)" x="-1.48" y="0" font-size="18.00" fill="#000" text-anchor="start">N3</text>
<text transform="translate(1101.36 1960.60) rotate(-90)" x="-1.48" y="0" font-size="18.00" fill="#000" text-anchor="start">N4</text>
<text transform="translate(1146.70 1960.60) rotate(-90)" x="-1.48" y="0" font-size="18.00" fill="#000" text-anchor="start">N5</text>
<text transform="translate(1192.03 1960.60) rotate(-90)" x="-1.48" y="0" font-size="18.00" fill="#000" text-anchor="start">N6</text>
<text transform="translate(1237.37 1960.60) rotate(-90)" x="-1.48" y="0" font-size="18.00" fill="#000" text-anchor="start">N7</text>
<text transform="translate(1282.70 1960.60) rotate(-90)" x="-1.48" y="0" font-size="18.00" fill="#000" text-anchor="start">N8</text>
<text x="1354.70" y="1400.40" font-size="48.80" font-weight="bold" fill="#000" text-anchor="start">Genus</text>
<rect x="1356.70" y="1449.20" width="17.00" height="14.30" fill="#FF0000"/>
<text x="1384.70" y="1464.90" font-size="24.40" fill="#000" text-anchor="start">Bacteroides</text>
<rect x="1356.70" y="1477.20" width="17.00" height="14.30" fill="#FF9900"/>
<text x="1384.70" y="1492.90" font-size="24.40" fill="#000" text-anchor="start">Lachnospiraceae_NK4A136_group</text>
<rect x="1356.70" y="1504.80" width="17.00" height="14.30" fill="#FFCC00"/>
<text x="1384.70" y="1520.50" font-size="24.40" fill="#000" text-anchor="start">Escherichia−Shigella</text>
<rect x="1356.70" y="1533.00" width="17.00" height="14.30" fill="#00FF00"/>
<text x="1386.65" y="1548.70" font-size="24.40" fill="#000" text-anchor="start">Alistipes</text>
<rect x="1356.70" y="1561.80" width="17.00" height="14.30" fill="#6699FF"/>
<text x="1384.70" y="1577.50" font-size="24.40" fill="#000" text-anchor="start">Helicobacter</text>
<rect x="1356.70" y="1590.30" width="17.00" height="14.30" fill="#CC33FF"/>
<text x="1384.70" y="1606.00" font-size="24.40" fill="#000" text-anchor="start">Ruminococcaceae_UCG−014</text>
<rect x="1356.70" y="1618.50" width="17.00" height="14.30" fill="#999922"/>
<text x="1384.70" y="1634.20" font-size="24.40" fill="#000" text-anchor="start">Parabacteroides</text>
<rect x="1356.70" y="1646.70" width="17.00" height="14.30" fill="#999999"/>
<text x="1386.65" y="1662.40" font-size="24.40" fill="#000" text-anchor="start">Alloprevotella</text>
<rect x="1356.70" y="1679.60" width="17.00" height="14.30" fill="#FF00CC"/>
<text x="1384.70" y="1695.30" font-size="24.40" fill="#000" text-anchor="start">Prevotellaceae_UCG−001</text>
<rect x="1356.70" y="1707.60" width="17.00" height="14.30" fill="#CC0000"/>
<text x="1384.70" y="1723.30" font-size="24.40" fill="#000" text-anchor="start">Parasutterella</text>
<rect x="1356.70" y="1736.00" width="17.00" height="14.30" fill="#FFCCCC"/>
<text x="1384.70" y="1751.70" font-size="24.40" fill="#000" text-anchor="start">Blautia</text>
<rect x="1356.70" y="1764.20" width="17.00" height="14.30" fill="#FFFF00"/>
<text x="1384.70" y="1779.90" font-size="24.40" fill="#000" text-anchor="start">Erysipelatoclostridium</text>
<rect x="1356.70" y="1792.20" width="17.00" height="14.30" fill="#CCFF00"/>
<text x="1384.70" y="1807.90" font-size="24.40" fill="#000" text-anchor="start">Lachnoclostridium</text>
<rect x="1356.70" y="1820.60" width="17.00" height="14.30" fill="#338000"/>
<text x="1384.70" y="1836.30" font-size="24.40" fill="#000" text-anchor="start">Muribaculum</text>
<rect x="1356.70" y="1848.80" width="17.00" height="14.30" fill="#0000CC"/>
<text x="1384.70" y="1864.50" font-size="24.40" fill="#000" text-anchor="start">Mucispirillum</text>
<rect x="1356.70" y="1876.90" width="17.00" height="14.30" fill="#99CCFF"/>
<text x="1385.68" y="1892.60" font-size="24.40" fill="#000" text-anchor="start">others</text>
</svg></body></html>
